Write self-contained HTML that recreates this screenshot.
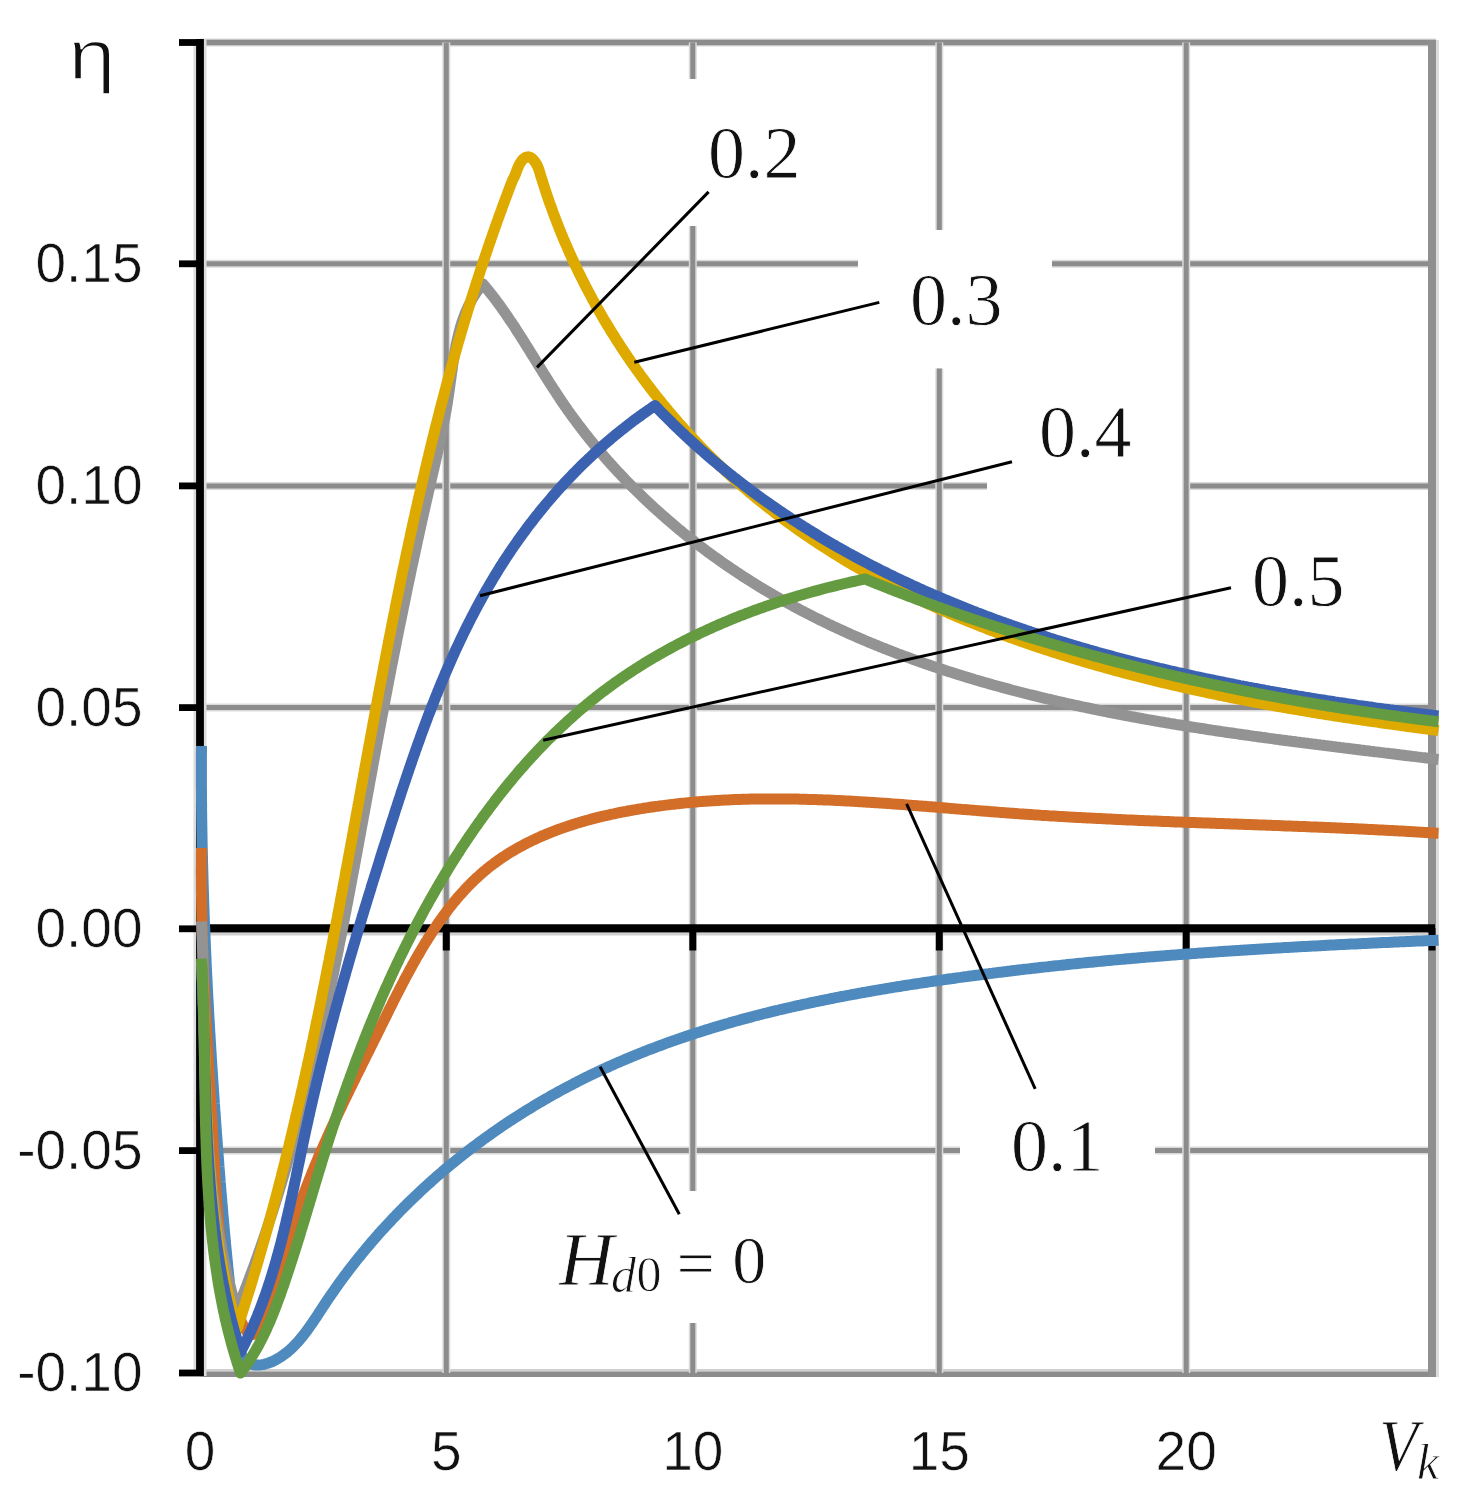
<!DOCTYPE html>
<html><head><meta charset="utf-8"><style>html,body{margin:0;padding:0;background:#fff;}svg{display:block;}</style></head>
<body><svg width="1466" height="1502" viewBox="0 0 1466 1502">
<rect width="1466" height="1502" fill="#fff"/>
<g>
<rect width="1466" height="1502" fill="#fff"/>
<line x1="200" y1="42.5" x2="1436" y2="42.5" stroke="#dadada" stroke-width="8"/>
<line x1="200" y1="42.5" x2="1436" y2="42.5" stroke="#8c8c8c" stroke-width="5.4"/>
<line x1="200" y1="263.8" x2="858" y2="263.8" stroke="#dadada" stroke-width="8"/>
<line x1="200" y1="263.8" x2="858" y2="263.8" stroke="#8c8c8c" stroke-width="5"/>
<line x1="1052" y1="263.8" x2="1432" y2="263.8" stroke="#dadada" stroke-width="8"/>
<line x1="1052" y1="263.8" x2="1432" y2="263.8" stroke="#8c8c8c" stroke-width="5"/>
<line x1="200" y1="485.9" x2="987" y2="485.9" stroke="#dadada" stroke-width="8"/>
<line x1="200" y1="485.9" x2="987" y2="485.9" stroke="#8c8c8c" stroke-width="5"/>
<line x1="1184" y1="485.9" x2="1432" y2="485.9" stroke="#dadada" stroke-width="8"/>
<line x1="1184" y1="485.9" x2="1432" y2="485.9" stroke="#8c8c8c" stroke-width="5"/>
<line x1="200" y1="707.6" x2="1432" y2="707.6" stroke="#dadada" stroke-width="8"/>
<line x1="200" y1="707.6" x2="1432" y2="707.6" stroke="#8c8c8c" stroke-width="5"/>
<line x1="200" y1="1150.6" x2="960" y2="1150.6" stroke="#dadada" stroke-width="8"/>
<line x1="200" y1="1150.6" x2="960" y2="1150.6" stroke="#8c8c8c" stroke-width="5"/>
<line x1="1155" y1="1150.6" x2="1432" y2="1150.6" stroke="#dadada" stroke-width="8"/>
<line x1="1155" y1="1150.6" x2="1432" y2="1150.6" stroke="#8c8c8c" stroke-width="5"/>
<line x1="200" y1="1370.3" x2="1436" y2="1370.3" stroke="#d0d0d0" stroke-width="2.6"/>
<line x1="200" y1="1374.3" x2="1436" y2="1374.3" stroke="#8c8c8c" stroke-width="5.4"/>
<line x1="446.3" y1="42.5" x2="446.3" y2="1373" stroke="#dadada" stroke-width="8"/>
<line x1="446.3" y1="42.5" x2="446.3" y2="1373" stroke="#8c8c8c" stroke-width="5"/>
<line x1="692.8" y1="42.5" x2="692.8" y2="79" stroke="#dadada" stroke-width="8"/>
<line x1="692.8" y1="42.5" x2="692.8" y2="79" stroke="#8c8c8c" stroke-width="5"/>
<line x1="692.8" y1="226" x2="692.8" y2="1191" stroke="#dadada" stroke-width="8"/>
<line x1="692.8" y1="226" x2="692.8" y2="1191" stroke="#8c8c8c" stroke-width="5"/>
<line x1="692.8" y1="1323" x2="692.8" y2="1373" stroke="#dadada" stroke-width="8"/>
<line x1="692.8" y1="1323" x2="692.8" y2="1373" stroke="#8c8c8c" stroke-width="5"/>
<line x1="939.3" y1="42.5" x2="939.3" y2="230" stroke="#dadada" stroke-width="8"/>
<line x1="939.3" y1="42.5" x2="939.3" y2="230" stroke="#8c8c8c" stroke-width="5"/>
<line x1="939.3" y1="368.5" x2="939.3" y2="1373" stroke="#dadada" stroke-width="8"/>
<line x1="939.3" y1="368.5" x2="939.3" y2="1373" stroke="#8c8c8c" stroke-width="5"/>
<line x1="1186.2" y1="42.5" x2="1186.2" y2="1373" stroke="#dadada" stroke-width="8"/>
<line x1="1186.2" y1="42.5" x2="1186.2" y2="1373" stroke="#8c8c8c" stroke-width="5"/>
<line x1="1437.5" y1="40" x2="1437.5" y2="1377" stroke="#dcdcdc" stroke-width="3"/>
<line x1="1432" y1="40" x2="1432" y2="1377" stroke="#8f8f8f" stroke-width="8"/>
<line x1="200" y1="39" x2="200" y2="1376" stroke="#dcdcdc" stroke-width="13"/>
<line x1="200" y1="39" x2="200" y2="1376" stroke="#000" stroke-width="7.8"/>
<line x1="179" y1="42.5" x2="200" y2="42.5" stroke="#000" stroke-width="6.8"/>
<line x1="179" y1="263.8" x2="200" y2="263.8" stroke="#000" stroke-width="6.8"/>
<line x1="179" y1="485.9" x2="200" y2="485.9" stroke="#000" stroke-width="6.8"/>
<line x1="179" y1="707.6" x2="200" y2="707.6" stroke="#000" stroke-width="6.8"/>
<line x1="179" y1="928.8" x2="200" y2="928.8" stroke="#000" stroke-width="6.8"/>
<line x1="179" y1="1150.6" x2="200" y2="1150.6" stroke="#000" stroke-width="6.8"/>
<line x1="179" y1="1373" x2="200" y2="1373" stroke="#000" stroke-width="6.8"/>
<line x1="200" y1="928.3" x2="1435" y2="928.3" stroke="#000" stroke-width="8.3"/>
<line x1="200" y1="934.2" x2="1435" y2="934.2" stroke="#d0d0d0" stroke-width="2.4"/>
<line x1="446.3" y1="928" x2="446.3" y2="950.5" stroke="#000" stroke-width="7"/>
<line x1="692.8" y1="928" x2="692.8" y2="950.5" stroke="#000" stroke-width="7"/>
<line x1="939.3" y1="928" x2="939.3" y2="950.5" stroke="#000" stroke-width="7"/>
<line x1="1186.2" y1="928" x2="1186.2" y2="950.5" stroke="#000" stroke-width="7"/>
<line x1="1432" y1="928" x2="1432" y2="950.5" stroke="#000" stroke-width="7"/>
<path d="M201.5,746.0 L201.5,748.0 L201.5,749.9 L201.5,751.9 L201.4,753.9 L201.4,755.8 L201.4,757.8 L201.4,759.8 L201.4,761.8 L201.4,763.7 L201.4,765.7 L201.4,767.7 L201.4,769.7 L201.4,771.7 L201.4,773.6 L201.4,775.6 L201.4,777.6 L201.4,779.6 L201.4,781.6 L201.4,783.5 L201.4,785.5 L201.4,787.5 L201.5,789.5 L201.5,791.5 L201.5,793.5 L201.5,795.5 L201.5,797.5 L201.5,799.4 L201.5,801.4 L201.6,803.4 L201.6,805.4 L201.6,807.4 L201.6,809.4 L201.6,811.4 L201.7,813.4 L201.7,815.4 L201.7,817.4 L201.7,819.4 L201.8,821.4 L201.8,823.4 L201.8,825.4 L201.9,827.4 L201.9,829.4 L201.9,831.4 L202.0,833.4 L202.0,835.4 L202.0,837.4 L202.1,839.4 L202.1,841.4 L202.1,843.4 L202.2,845.4 L202.2,847.4 L202.3,849.4 L202.3,851.4 L202.4,853.4 L202.4,855.5 L202.5,857.5 L202.5,859.5 L202.5,861.5 L202.6,863.5 L202.7,865.5 L202.7,867.5 L202.8,869.5 L202.8,871.5 L202.9,873.5 L202.9,875.6 L203.0,877.6 L203.0,879.6 L203.1,881.6 L203.1,883.6 L203.2,885.6 L203.3,887.6 L203.3,889.6 L203.4,891.7 L203.5,893.7 L203.5,895.7 L203.6,897.7 L203.7,899.7 L203.7,901.7 L203.8,903.7 L203.9,905.8 L203.9,907.8 L204.0,909.8 L204.1,911.8 L204.1,913.8 L204.2,915.8 L204.3,917.9 L204.4,919.9 L204.4,921.9 L204.5,923.9 L204.6,925.9 L204.7,927.9 L204.8,929.9 L204.8,932.0 L204.9,934.0 L205.0,936.0 L205.1,938.0 L205.2,940.0 L205.3,942.0 L205.3,944.1 L205.4,946.1 L205.5,948.1 L205.6,950.1 L205.7,952.1 L205.8,954.1 L205.9,956.2 L206.0,958.2 L206.1,960.2 L206.1,962.2 L206.2,964.2 L206.3,966.2 L206.4,968.2 L206.5,970.3 L206.6,972.3 L206.7,974.3 L206.8,976.3 L206.9,978.3 L207.0,980.3 L207.1,982.3 L207.2,984.3 L207.3,986.4 L207.4,988.4 L207.5,990.4 L207.6,992.4 L207.7,994.4 L207.8,996.4 L207.9,998.4 L208.0,1000.4 L208.2,1002.4 L208.3,1004.4 L208.4,1006.5 L208.5,1008.5 L208.6,1010.5 L208.7,1012.5 L208.8,1014.5 L208.9,1016.5 L209.0,1018.5 L209.1,1020.5 L209.3,1022.5 L209.4,1024.5 L209.5,1026.5 L209.6,1028.5 L209.7,1030.5 L209.8,1032.5 L210.0,1034.5 L210.1,1036.5 L210.2,1038.5 L210.3,1040.5 L210.4,1042.5 L210.6,1044.5 L210.7,1046.5 L210.8,1048.5 L210.9,1050.5 L211.0,1052.5 L211.2,1054.5 L211.3,1056.5 L211.4,1058.5 L211.5,1060.5 L211.7,1062.4 L211.8,1064.4 L211.9,1066.4 L212.0,1068.4 L212.2,1070.4 L212.3,1072.4 L212.4,1074.4 L212.6,1076.4 L212.7,1078.3 L212.8,1080.3 L213.0,1082.3 L213.1,1084.3 L213.2,1086.3 L213.4,1088.3 L213.5,1090.2 L213.6,1092.2 L213.8,1094.2 L213.9,1096.2 L214.0,1098.1 L214.2,1100.1 L214.3,1102.1 L214.4,1104.1 L214.6,1106.0 L214.7,1108.0 L214.8,1110.0 L215.0,1111.9 L215.1,1113.9 L215.3,1115.9 L215.4,1117.8 L215.5,1119.8 L215.7,1121.8 L215.8,1123.7 L216.0,1125.7 L216.1,1127.6 L216.2,1129.6 L216.4,1131.6 L216.5,1133.5 L216.7,1135.5 L216.8,1137.4 L217.0,1139.4 L217.1,1141.3 L217.3,1143.3 L217.4,1145.2 L217.5,1147.2 L217.7,1149.1 L217.8,1151.1 L218.0,1153.0 L218.1,1155.0 L218.3,1156.9 L218.4,1158.8 L218.6,1160.8 L218.7,1162.7 L218.9,1164.7 L219.0,1166.6 L219.2,1168.5 L219.3,1170.5 L219.5,1172.4 L219.6,1174.3 L219.8,1176.3 L219.9,1178.2 L220.1,1180.2 L220.2,1182.1 L220.4,1184.0 L220.6,1186.0 L220.7,1187.9 L220.9,1189.9 L221.0,1191.8 L221.2,1193.7 L221.4,1195.7 L221.5,1197.6 L221.7,1199.6 L221.8,1201.5 L222.0,1203.5 L222.2,1205.4 L222.3,1207.4 L222.5,1209.4 L222.7,1211.3 L222.8,1213.3 L223.0,1215.2 L223.2,1217.2 L223.4,1219.2 L223.5,1221.1 L223.7,1223.1 L223.9,1225.1 L224.1,1227.1 L224.2,1229.1 L224.4,1231.1 L224.6,1233.0 L224.8,1235.0 L225.0,1237.0 L225.2,1239.0 L225.3,1241.0 L225.5,1243.1 L225.7,1245.1 L225.9,1247.1 L226.1,1249.1 L226.3,1251.1 L226.5,1253.2 L226.7,1255.2 L226.9,1257.3 L227.1,1259.3 L227.3,1261.3 L227.5,1263.4 L227.7,1265.5 L227.9,1267.5 L228.1,1269.6 L228.3,1271.7 L228.5,1273.8 L228.8,1275.9 L229.0,1278.0 L229.2,1280.1 L229.4,1282.2 L229.6,1284.3 L229.9,1286.4 L230.1,1288.5 L230.3,1290.7 L230.5,1292.8 L230.8,1294.9 L231.0,1297.1 L231.2,1299.3 L231.5,1301.4 L231.7,1303.6 L232.0,1305.8 L232.2,1308.0 L232.4,1310.2 L232.7,1312.4 L232.9,1314.6 L233.2,1316.8 L233.5,1319.0 L233.7,1321.3 L234.0,1323.5 L234.3,1325.7 L234.6,1328.0 L234.9,1330.2 L235.2,1332.4 L235.6,1334.5 L235.9,1336.7 L236.4,1338.8 L236.8,1340.9 L237.3,1343.0 L237.9,1345.0 L238.5,1346.9 L239.1,1348.8 L239.8,1350.7 L240.5,1352.5 L241.3,1354.2 L242.2,1355.8 L243.1,1357.3 L244.1,1358.6 L245.2,1359.9 L246.3,1361.0 L247.5,1362.0 L248.7,1362.9 L250.1,1363.6 L251.5,1364.1 L252.9,1364.6 L254.4,1364.9 L256.0,1365.0 L257.5,1365.1 L259.2,1365.1 L260.8,1364.9 L262.5,1364.6 L264.2,1364.3 L265.9,1363.8 L267.6,1363.3 L269.3,1362.7 L271.1,1362.0 L272.8,1361.3 L274.5,1360.4 L276.2,1359.6 L277.9,1358.6 L279.5,1357.6 L281.1,1356.6 L282.7,1355.5 L284.2,1354.4 L285.8,1353.3 L287.3,1352.1 L288.7,1350.9 L290.2,1349.6 L291.6,1348.3 L293.0,1347.0 L294.3,1345.6 L295.7,1344.2 L297.0,1342.8 L298.3,1341.4 L299.6,1339.9 L300.8,1338.4 L302.1,1336.9 L303.3,1335.4 L304.5,1333.8 L305.7,1332.2 L306.9,1330.6 L308.1,1329.0 L309.2,1327.4 L310.4,1325.7 L311.5,1324.1 L312.7,1322.4 L313.8,1320.7 L314.9,1319.1 L316.1,1317.4 L317.2,1315.7 L318.3,1314.0 L319.4,1312.3 L320.5,1310.5 L321.7,1308.8 L322.8,1307.1 L323.9,1305.4 L325.0,1303.7 L326.2,1302.0 L327.3,1300.3 L328.4,1298.6 L329.6,1296.9 L330.7,1295.2 L331.9,1293.6 L333.1,1291.9 L334.2,1290.2 L335.4,1288.6 L336.6,1286.9 L337.7,1285.2 L338.9,1283.6 L340.1,1281.9 L341.3,1280.3 L342.5,1278.7 L343.7,1277.0 L344.9,1275.4 L346.2,1273.8 L347.4,1272.2 L348.6,1270.5 L349.8,1268.9 L351.1,1267.3 L352.3,1265.7 L353.6,1264.1 L354.8,1262.5 L356.1,1260.9 L357.3,1259.4 L358.6,1257.8 L359.9,1256.2 L361.2,1254.6 L362.4,1253.1 L363.7,1251.5 L365.0,1250.0 L366.3,1248.4 L367.6,1246.9 L368.9,1245.3 L370.2,1243.8 L371.5,1242.2 L372.8,1240.7 L374.2,1239.2 L375.5,1237.7 L376.8,1236.2 L378.1,1234.6 L379.5,1233.1 L380.8,1231.6 L382.2,1230.1 L383.5,1228.7 L384.9,1227.2 L386.2,1225.7 L387.6,1224.2 L389.0,1222.7 L390.4,1221.3 L391.7,1219.8 L393.1,1218.3 L394.5,1216.9 L395.9,1215.4 L397.3,1214.0 L398.7,1212.6 L400.1,1211.1 L401.5,1209.7 L402.9,1208.3 L404.3,1206.8 L405.8,1205.4 L407.2,1204.0 L408.6,1202.6 L410.0,1201.2 L411.5,1199.8 L412.9,1198.4 L414.4,1197.0 L415.8,1195.6 L417.3,1194.3 L418.7,1192.9 L420.2,1191.5 L421.7,1190.1 L423.1,1188.8 L424.6,1187.4 L426.1,1186.1 L427.6,1184.7 L429.1,1183.4 L430.5,1182.1 L432.0,1180.7 L433.5,1179.4 L435.0,1178.1 L436.5,1176.7 L438.0,1175.4 L439.6,1174.1 L441.1,1172.8 L442.6,1171.5 L444.1,1170.2 L445.6,1168.9 L447.2,1167.7 L448.7,1166.4 L450.3,1165.1 L451.8,1163.8 L453.3,1162.6 L454.9,1161.3 L456.4,1160.0 L458.0,1158.8 L459.6,1157.5 L461.1,1156.3 L462.7,1155.1 L464.3,1153.8 L465.8,1152.6 L467.4,1151.4 L469.0,1150.1 L470.6,1148.9 L472.2,1147.7 L473.8,1146.5 L475.4,1145.3 L477.0,1144.1 L478.6,1142.9 L480.2,1141.7 L481.8,1140.6 L483.4,1139.4 L485.0,1138.2 L486.6,1137.1 L488.2,1135.9 L489.9,1134.7 L491.5,1133.6 L493.1,1132.4 L494.8,1131.3 L496.4,1130.2 L498.0,1129.0 L499.7,1127.9 L501.3,1126.8 L503.0,1125.6 L504.6,1124.5 L506.3,1123.4 L507.9,1122.3 L509.6,1121.2 L511.3,1120.1 L512.9,1119.0 L514.6,1118.0 L516.3,1116.9 L518.0,1115.8 L519.6,1114.7 L521.3,1113.7 L523.0,1112.6 L524.7,1111.5 L526.4,1110.5 L528.1,1109.4 L529.8,1108.4 L531.5,1107.4 L533.2,1106.3 L534.9,1105.3 L536.6,1104.3 L538.3,1103.3 L540.0,1102.3 L541.8,1101.2 L543.5,1100.2 L545.2,1099.2 L546.9,1098.3 L548.7,1097.3 L550.4,1096.3 L552.1,1095.3 L553.9,1094.3 L555.6,1093.4 L557.3,1092.4 L559.1,1091.4 L560.8,1090.5 L562.6,1089.5 L564.3,1088.6 L566.1,1087.7 L567.8,1086.7 L569.6,1085.8 L571.4,1084.9 L573.1,1083.9 L574.9,1083.0 L576.7,1082.1 L578.4,1081.2 L580.2,1080.3 L582.0,1079.4 L583.8,1078.5 L585.5,1077.6 L587.3,1076.8 L589.1,1075.9 L590.9,1075.0 L592.7,1074.1 L594.5,1073.3 L596.3,1072.4 L598.1,1071.6 L599.9,1070.7 L601.7,1069.9 L603.5,1069.1 L605.3,1068.2 L607.1,1067.4 L608.9,1066.6 L610.7,1065.8 L612.5,1065.0 L614.3,1064.1 L616.2,1063.3 L618.0,1062.5 L619.8,1061.8 L621.6,1061.0 L623.4,1060.2 L625.3,1059.4 L627.1,1058.6 L628.9,1057.9 L630.8,1057.1 L632.6,1056.3 L634.4,1055.6 L636.3,1054.8 L638.1,1054.1 L640.0,1053.3 L641.8,1052.6 L643.7,1051.9 L645.5,1051.1 L647.4,1050.4 L649.2,1049.7 L651.1,1049.0 L652.9,1048.3 L654.8,1047.6 L656.6,1046.9 L658.5,1046.2 L660.4,1045.5 L662.2,1044.8 L664.1,1044.1 L666.0,1043.4 L667.8,1042.7 L669.7,1042.1 L671.6,1041.4 L673.5,1040.7 L675.3,1040.1 L677.2,1039.4 L679.1,1038.8 L681.0,1038.1 L682.9,1037.5 L684.8,1036.8 L686.6,1036.2 L688.5,1035.6 L690.4,1034.9 L692.3,1034.3 L694.2,1033.7 L696.1,1033.1 L698.0,1032.5 L699.9,1031.9 L701.8,1031.3 L703.7,1030.7 L705.6,1030.1 L707.5,1029.5 L709.4,1028.9 L711.3,1028.3 L713.2,1027.7 L715.1,1027.1 L717.1,1026.6 L719.0,1026.0 L720.9,1025.4 L722.8,1024.9 L724.7,1024.3 L726.6,1023.7 L728.5,1023.2 L730.5,1022.6 L732.4,1022.1 L734.3,1021.5 L736.2,1021.0 L738.2,1020.5 L740.1,1019.9 L742.0,1019.4 L743.9,1018.9 L745.9,1018.4 L747.8,1017.9 L749.7,1017.3 L751.7,1016.8 L753.6,1016.3 L755.5,1015.8 L757.5,1015.3 L759.4,1014.8 L761.4,1014.3 L763.3,1013.8 L765.2,1013.3 L767.2,1012.9 L769.1,1012.4 L771.1,1011.9 L773.0,1011.4 L775.0,1010.9 L776.9,1010.5 L778.9,1010.0 L780.8,1009.5 L782.8,1009.1 L784.7,1008.6 L786.7,1008.2 L788.6,1007.7 L790.6,1007.3 L792.5,1006.8 L794.5,1006.4 L796.4,1005.9 L798.4,1005.5 L800.4,1005.1 L802.3,1004.6 L804.3,1004.2 L806.2,1003.8 L808.2,1003.4 L810.2,1002.9 L812.1,1002.5 L814.1,1002.1 L816.1,1001.7 L818.0,1001.3 L820.0,1000.9 L822.0,1000.5 L823.9,1000.1 L825.9,999.7 L827.9,999.3 L829.8,998.9 L831.8,998.5 L833.8,998.1 L835.7,997.7 L837.7,997.3 L839.7,996.9 L841.7,996.5 L843.6,996.2 L845.6,995.8 L847.6,995.4 L849.6,995.1 L851.5,994.7 L853.5,994.3 L855.5,994.0 L857.5,993.6 L859.4,993.2 L861.4,992.9 L863.4,992.5 L865.4,992.2 L867.4,991.8 L869.3,991.5 L871.3,991.1 L873.3,990.8 L875.3,990.4 L877.3,990.1 L879.2,989.8 L881.2,989.4 L883.2,989.1 L885.2,988.8 L887.2,988.4 L889.2,988.1 L891.1,987.8 L893.1,987.4 L895.1,987.1 L897.1,986.8 L899.1,986.5 L901.1,986.2 L903.0,985.8 L905.0,985.5 L907.0,985.2 L909.0,984.9 L911.0,984.6 L913.0,984.3 L914.9,984.0 L916.9,983.7 L918.9,983.4 L920.9,983.1 L922.9,982.8 L924.9,982.5 L926.9,982.2 L928.8,981.9 L930.8,981.6 L932.8,981.3 L934.8,981.0 L936.8,980.7 L938.8,980.4 L940.8,980.2 L942.7,979.9 L944.7,979.6 L946.7,979.3 L948.7,979.0 L950.7,978.7 L952.7,978.5 L954.7,978.2 L956.6,977.9 L958.6,977.6 L960.6,977.4 L962.6,977.1 L964.6,976.8 L966.6,976.6 L968.6,976.3 L970.5,976.0 L972.5,975.8 L974.5,975.5 L976.5,975.2 L978.5,975.0 L980.5,974.7 L982.4,974.5 L984.4,974.2 L986.4,973.9 L988.4,973.7 L990.4,973.4 L992.4,973.2 L994.4,972.9 L996.3,972.7 L998.3,972.4 L1000.3,972.2 L1002.3,972.0 L1004.3,971.7 L1006.3,971.5 L1008.2,971.2 L1010.2,971.0 L1012.2,970.7 L1014.2,970.5 L1016.2,970.3 L1018.2,970.0 L1020.2,969.8 L1022.1,969.6 L1024.1,969.3 L1026.1,969.1 L1028.1,968.9 L1030.1,968.7 L1032.1,968.4 L1034.0,968.2 L1036.0,968.0 L1038.0,967.8 L1040.0,967.5 L1042.0,967.3 L1044.0,967.1 L1045.9,966.9 L1047.9,966.7 L1049.9,966.4 L1051.9,966.2 L1053.9,966.0 L1055.9,965.8 L1057.9,965.6 L1059.8,965.4 L1061.8,965.2 L1063.8,965.0 L1065.8,964.8 L1067.8,964.5 L1069.8,964.3 L1071.7,964.1 L1073.7,963.9 L1075.7,963.7 L1077.7,963.5 L1079.7,963.3 L1081.7,963.1 L1083.7,962.9 L1085.6,962.7 L1087.6,962.5 L1089.6,962.3 L1091.6,962.2 L1093.6,962.0 L1095.6,961.8 L1097.5,961.6 L1099.5,961.4 L1101.5,961.2 L1103.5,961.0 L1105.5,960.8 L1107.5,960.6 L1109.5,960.5 L1111.4,960.3 L1113.4,960.1 L1115.4,959.9 L1117.4,959.7 L1119.4,959.6 L1121.4,959.4 L1123.4,959.2 L1125.3,959.0 L1127.3,958.8 L1129.3,958.7 L1131.3,958.5 L1133.3,958.3 L1135.3,958.2 L1137.3,958.0 L1139.2,957.8 L1141.2,957.6 L1143.2,957.5 L1145.2,957.3 L1147.2,957.1 L1149.2,957.0 L1151.2,956.8 L1153.1,956.7 L1155.1,956.5 L1157.1,956.3 L1159.1,956.2 L1161.1,956.0 L1163.1,955.9 L1165.1,955.7 L1167.0,955.5 L1169.0,955.4 L1171.0,955.2 L1173.0,955.1 L1175.0,954.9 L1177.0,954.8 L1179.0,954.6 L1181.0,954.5 L1182.9,954.3 L1184.9,954.2 L1186.9,954.0 L1188.9,953.9 L1190.9,953.7 L1192.9,953.6 L1194.9,953.4 L1196.9,953.3 L1198.9,953.1 L1200.8,953.0 L1202.8,952.9 L1204.8,952.7 L1206.8,952.6 L1208.8,952.4 L1210.8,952.3 L1212.8,952.2 L1214.8,952.0 L1216.8,951.9 L1218.7,951.7 L1220.7,951.6 L1222.7,951.5 L1224.7,951.3 L1226.7,951.2 L1228.7,951.1 L1230.7,950.9 L1232.7,950.8 L1234.7,950.7 L1236.6,950.5 L1238.6,950.4 L1240.6,950.3 L1242.6,950.2 L1244.6,950.0 L1246.6,949.9 L1248.6,949.8 L1250.6,949.7 L1252.6,949.5 L1254.6,949.4 L1256.6,949.3 L1258.6,949.2 L1260.5,949.0 L1262.5,948.9 L1264.5,948.8 L1266.5,948.7 L1268.5,948.6 L1270.5,948.4 L1272.5,948.3 L1274.5,948.2 L1276.5,948.1 L1278.5,948.0 L1280.5,947.9 L1282.5,947.7 L1284.5,947.6 L1286.5,947.5 L1288.4,947.4 L1290.4,947.3 L1292.4,947.2 L1294.4,947.1 L1296.4,947.0 L1298.4,946.8 L1300.4,946.7 L1302.4,946.6 L1304.4,946.5 L1306.4,946.4 L1308.4,946.3 L1310.4,946.2 L1312.4,946.1 L1314.4,946.0 L1316.4,945.9 L1318.4,945.8 L1320.4,945.7 L1322.4,945.6 L1324.4,945.5 L1326.4,945.3 L1328.4,945.2 L1330.4,945.1 L1332.4,945.0 L1334.3,944.9 L1336.3,944.8 L1338.3,944.7 L1340.3,944.6 L1342.3,944.5 L1344.3,944.4 L1346.3,944.3 L1348.3,944.2 L1350.3,944.1 L1352.3,944.0 L1354.3,944.0 L1356.3,943.9 L1358.3,943.8 L1360.3,943.7 L1362.3,943.6 L1364.3,943.5 L1366.3,943.4 L1368.3,943.3 L1370.3,943.2 L1372.3,943.1 L1374.3,943.0 L1376.3,942.9 L1378.3,942.8 L1380.3,942.7 L1382.3,942.6 L1384.4,942.5 L1386.4,942.5 L1388.4,942.4 L1390.4,942.3 L1392.4,942.2 L1394.4,942.1 L1396.4,942.0 L1398.4,941.9 L1400.4,941.8 L1402.4,941.7 L1404.4,941.7 L1406.4,941.6 L1408.4,941.5 L1410.4,941.4 L1412.4,941.3 L1414.4,941.2 L1416.4,941.1 L1418.4,941.0 L1420.4,941.0 L1422.4,940.9 L1424.4,940.8 L1426.5,940.7 L1428.5,940.6 L1430.5,940.5 L1432.5,940.5 L1434.5,940.4 L1436.5,940.3 L1438.5,940.2" fill="none" stroke="#4E8ABE" stroke-width="11" stroke-linejoin="round" stroke-linecap="butt"/>
<path d="M201.5,848.0 L201.5,850.0 L201.5,852.1 L201.4,854.1 L201.4,856.1 L201.4,858.1 L201.4,860.1 L201.4,862.2 L201.4,864.2 L201.4,866.2 L201.3,868.2 L201.3,870.2 L201.3,872.2 L201.3,874.3 L201.4,876.3 L201.4,878.3 L201.4,880.3 L201.4,882.3 L201.4,884.3 L201.4,886.3 L201.4,888.3 L201.4,890.3 L201.5,892.3 L201.5,894.3 L201.5,896.3 L201.5,898.3 L201.6,900.3 L201.6,902.3 L201.6,904.3 L201.7,906.3 L201.7,908.3 L201.7,910.3 L201.8,912.3 L201.8,914.3 L201.8,916.3 L201.9,918.3 L201.9,920.3 L202.0,922.3 L202.0,924.3 L202.1,926.3 L202.1,928.3 L202.2,930.3 L202.2,932.3 L202.3,934.3 L202.4,936.3 L202.4,938.3 L202.5,940.2 L202.5,942.2 L202.6,944.2 L202.7,946.2 L202.7,948.2 L202.8,950.2 L202.9,952.2 L203.0,954.2 L203.0,956.1 L203.1,958.1 L203.2,960.1 L203.3,962.1 L203.3,964.1 L203.4,966.1 L203.5,968.1 L203.6,970.0 L203.7,972.0 L203.8,974.0 L203.8,976.0 L203.9,978.0 L204.0,979.9 L204.1,981.9 L204.2,983.9 L204.3,985.9 L204.4,987.9 L204.5,989.9 L204.6,991.8 L204.7,993.8 L204.8,995.8 L204.9,997.8 L204.9,999.8 L205.0,1001.7 L205.1,1003.7 L205.2,1005.7 L205.3,1007.7 L205.5,1009.7 L205.6,1011.7 L205.7,1013.6 L205.8,1015.6 L205.9,1017.6 L206.0,1019.6 L206.1,1021.6 L206.2,1023.5 L206.3,1025.5 L206.4,1027.5 L206.5,1029.5 L206.6,1031.5 L206.7,1033.5 L206.9,1035.4 L207.0,1037.4 L207.1,1039.4 L207.2,1041.4 L207.3,1043.4 L207.4,1045.4 L207.5,1047.3 L207.6,1049.3 L207.8,1051.3 L207.9,1053.3 L208.0,1055.3 L208.1,1057.3 L208.2,1059.3 L208.3,1061.2 L208.5,1063.2 L208.6,1065.2 L208.7,1067.2 L208.8,1069.2 L208.9,1071.2 L209.0,1073.2 L209.2,1075.2 L209.3,1077.2 L209.4,1079.1 L209.5,1081.1 L209.6,1083.1 L209.8,1085.1 L209.9,1087.1 L210.0,1089.1 L210.1,1091.1 L210.2,1093.1 L210.4,1095.1 L210.5,1097.1 L210.6,1099.1 L210.7,1101.1 L210.8,1103.1 L211.0,1105.1 L211.1,1107.1 L211.2,1109.1 L211.3,1111.1 L211.4,1113.1 L211.5,1115.1 L211.7,1117.1 L211.8,1119.1 L211.9,1121.1 L212.0,1123.1 L212.1,1125.1 L212.3,1127.1 L212.4,1129.2 L212.5,1131.2 L212.6,1133.2 L212.7,1135.2 L212.8,1137.2 L212.9,1139.2 L213.1,1141.2 L213.2,1143.3 L213.3,1145.3 L213.4,1147.3 L213.5,1149.3 L213.6,1151.3 L213.7,1153.4 L213.8,1155.4 L213.9,1157.4 L214.1,1159.4 L214.2,1161.5 L214.3,1163.5 L214.4,1165.5 L214.5,1167.5 L214.6,1169.6 L214.7,1171.6 L214.8,1173.6 L215.0,1175.6 L215.1,1177.7 L215.2,1179.7 L215.3,1181.7 L215.5,1183.8 L215.6,1185.8 L215.7,1187.8 L215.9,1189.8 L216.0,1191.9 L216.1,1193.9 L216.3,1195.9 L216.4,1197.9 L216.6,1200.0 L216.7,1202.0 L216.9,1204.0 L217.0,1206.0 L217.2,1208.0 L217.4,1210.1 L217.6,1212.1 L217.7,1214.1 L217.9,1216.1 L218.1,1218.1 L218.3,1220.1 L218.5,1222.1 L218.7,1224.2 L219.0,1226.2 L219.2,1228.2 L219.4,1230.2 L219.6,1232.2 L219.9,1234.2 L220.1,1236.2 L220.4,1238.2 L220.7,1240.1 L220.9,1242.1 L221.2,1244.1 L221.5,1246.1 L221.8,1248.1 L222.1,1250.1 L222.4,1252.0 L222.7,1254.0 L223.1,1256.0 L223.4,1257.9 L223.8,1259.9 L224.1,1261.9 L224.5,1263.8 L224.9,1265.8 L225.2,1267.7 L225.6,1269.7 L226.0,1271.6 L226.5,1273.5 L226.9,1275.5 L227.3,1277.4 L227.8,1279.3 L228.2,1281.3 L228.7,1283.2 L229.2,1285.1 L229.7,1287.0 L230.2,1288.9 L230.7,1290.8 L231.3,1292.7 L231.8,1294.6 L232.4,1296.5 L232.9,1298.4 L233.5,1300.2 L234.1,1302.1 L234.7,1304.0 L235.4,1305.8 L236.0,1307.7 L236.6,1309.5 L237.3,1311.4 L238.0,1313.2 L238.7,1315.1 L239.4,1316.9 L240.1,1318.7 L240.9,1320.5 L241.6,1322.3 L242.4,1324.0 L243.2,1325.6 L244.0,1327.2 L244.9,1328.6 L245.7,1330.0 L246.6,1331.2 L247.5,1332.2 L248.5,1333.1 L249.4,1333.8 L250.4,1334.2 L251.5,1334.5 L252.5,1334.5 L253.6,1334.3 L254.8,1333.7 L256.0,1332.9 L257.2,1331.9 L258.4,1330.6 L259.6,1329.0 L260.8,1327.3 L262.1,1325.5 L263.3,1323.5 L264.5,1321.4 L265.6,1319.2 L266.7,1317.0 L267.8,1314.7 L268.7,1312.4 L269.6,1310.2 L270.5,1308.0 L271.3,1305.8 L272.0,1303.7 L272.7,1301.5 L273.3,1299.4 L273.9,1297.3 L274.5,1295.2 L275.0,1293.1 L275.5,1291.0 L276.0,1289.0 L276.5,1286.9 L276.9,1284.9 L277.4,1282.9 L277.8,1280.8 L278.3,1278.8 L278.7,1276.8 L279.2,1274.8 L279.7,1272.8 L280.1,1270.8 L280.6,1268.8 L281.1,1266.8 L281.6,1264.9 L282.1,1262.9 L282.6,1260.9 L283.1,1259.0 L283.6,1257.0 L284.1,1255.0 L284.7,1253.1 L285.2,1251.1 L285.7,1249.2 L286.3,1247.3 L286.8,1245.3 L287.4,1243.4 L287.9,1241.5 L288.5,1239.5 L289.1,1237.6 L289.7,1235.7 L290.2,1233.8 L290.8,1231.9 L291.4,1230.0 L292.0,1228.1 L292.6,1226.2 L293.2,1224.3 L293.8,1222.4 L294.5,1220.5 L295.1,1218.6 L295.7,1216.8 L296.3,1214.9 L297.0,1213.0 L297.6,1211.2 L298.3,1209.3 L298.9,1207.4 L299.6,1205.6 L300.2,1203.7 L300.9,1201.9 L301.6,1200.0 L302.2,1198.2 L302.9,1196.3 L303.6,1194.5 L304.3,1192.6 L305.0,1190.8 L305.7,1189.0 L306.4,1187.1 L307.1,1185.3 L307.8,1183.5 L308.5,1181.7 L309.2,1179.8 L310.0,1178.0 L310.7,1176.2 L311.4,1174.4 L312.1,1172.6 L312.9,1170.8 L313.6,1168.9 L314.4,1167.1 L315.1,1165.3 L315.9,1163.5 L316.6,1161.7 L317.4,1159.9 L318.1,1158.1 L318.9,1156.3 L319.7,1154.5 L320.5,1152.7 L321.2,1150.9 L322.0,1149.2 L322.8,1147.4 L323.6,1145.6 L324.4,1143.8 L325.2,1142.0 L326.0,1140.2 L326.8,1138.4 L327.6,1136.6 L328.4,1134.9 L329.2,1133.1 L330.0,1131.3 L330.8,1129.5 L331.6,1127.7 L332.4,1126.0 L333.3,1124.2 L334.1,1122.4 L334.9,1120.6 L335.7,1118.8 L336.6,1117.1 L337.4,1115.3 L338.3,1113.5 L339.1,1111.7 L339.9,1110.0 L340.8,1108.2 L341.6,1106.4 L342.5,1104.6 L343.3,1102.8 L344.2,1101.1 L345.0,1099.3 L345.9,1097.5 L346.8,1095.7 L347.6,1094.0 L348.5,1092.2 L349.3,1090.4 L350.2,1088.6 L351.1,1086.8 L352.0,1085.1 L352.8,1083.3 L353.7,1081.5 L354.6,1079.7 L355.5,1077.9 L356.3,1076.1 L357.2,1074.3 L358.1,1072.6 L359.0,1070.8 L359.9,1069.0 L360.8,1067.2 L361.6,1065.4 L362.5,1063.6 L363.4,1061.8 L364.3,1060.0 L365.2,1058.2 L366.1,1056.4 L367.0,1054.6 L367.9,1052.8 L368.8,1051.0 L369.7,1049.2 L370.6,1047.4 L371.5,1045.6 L372.4,1043.8 L373.3,1041.9 L374.2,1040.1 L375.1,1038.3 L376.0,1036.5 L376.9,1034.7 L377.8,1032.8 L378.7,1031.0 L379.6,1029.2 L380.5,1027.4 L381.4,1025.5 L382.3,1023.7 L383.2,1021.8 L384.1,1020.0 L385.1,1018.2 L386.0,1016.3 L386.9,1014.5 L387.8,1012.6 L388.7,1010.8 L389.6,1008.9 L390.5,1007.1 L391.5,1005.3 L392.4,1003.4 L393.3,1001.6 L394.2,999.7 L395.2,997.9 L396.1,996.0 L397.0,994.2 L398.0,992.4 L398.9,990.5 L399.9,988.7 L400.8,986.9 L401.8,985.0 L402.7,983.2 L403.7,981.4 L404.6,979.5 L405.6,977.7 L406.6,975.9 L407.6,974.1 L408.5,972.3 L409.5,970.5 L410.5,968.6 L411.5,966.8 L412.5,965.0 L413.5,963.2 L414.5,961.5 L415.5,959.7 L416.5,957.9 L417.5,956.1 L418.6,954.3 L419.6,952.6 L420.6,950.8 L421.7,949.0 L422.7,947.3 L423.8,945.5 L424.8,943.8 L425.9,942.1 L427.0,940.3 L428.0,938.6 L429.1,936.9 L430.2,935.2 L431.3,933.5 L432.4,931.8 L433.5,930.1 L434.6,928.4 L435.8,926.8 L436.9,925.1 L438.0,923.4 L439.2,921.8 L440.3,920.2 L441.5,918.5 L442.7,916.9 L443.8,915.3 L445.0,913.7 L446.2,912.1 L447.4,910.5 L448.6,908.9 L449.8,907.4 L451.1,905.8 L452.3,904.3 L453.5,902.7 L454.8,901.2 L456.0,899.7 L457.3,898.2 L458.6,896.7 L459.9,895.2 L461.2,893.8 L462.5,892.3 L463.8,890.9 L465.1,889.4 L466.5,888.0 L467.8,886.6 L469.2,885.2 L470.5,883.8 L471.9,882.4 L473.3,881.1 L474.7,879.7 L476.1,878.4 L477.5,877.1 L479.0,875.8 L480.4,874.5 L481.9,873.2 L483.3,871.9 L484.8,870.7 L486.3,869.5 L487.8,868.2 L489.3,867.0 L490.8,865.8 L492.4,864.7 L493.9,863.5 L495.5,862.4 L497.0,861.2 L498.6,860.1 L500.2,859.0 L501.8,857.9 L503.4,856.8 L505.0,855.8 L506.7,854.7 L508.3,853.7 L509.9,852.7 L511.6,851.6 L513.3,850.7 L515.0,849.7 L516.6,848.7 L518.3,847.7 L520.0,846.8 L521.8,845.9 L523.5,844.9 L525.2,844.0 L527.0,843.1 L528.7,842.3 L530.5,841.4 L532.2,840.5 L534.0,839.7 L535.8,838.9 L537.6,838.0 L539.4,837.2 L541.2,836.4 L543.0,835.6 L544.8,834.9 L546.6,834.1 L548.5,833.3 L550.3,832.6 L552.2,831.9 L554.0,831.2 L555.9,830.4 L557.7,829.7 L559.6,829.1 L561.5,828.4 L563.4,827.7 L565.2,827.1 L567.1,826.4 L569.0,825.8 L570.9,825.2 L572.9,824.5 L574.8,823.9 L576.7,823.3 L578.6,822.8 L580.5,822.2 L582.5,821.6 L584.4,821.1 L586.4,820.5 L588.3,820.0 L590.3,819.4 L592.2,818.9 L594.2,818.4 L596.1,817.9 L598.1,817.4 L600.1,816.9 L602.0,816.4 L604.0,816.0 L606.0,815.5 L608.0,815.1 L610.0,814.6 L611.9,814.2 L613.9,813.8 L615.9,813.3 L617.9,812.9 L619.9,812.5 L621.9,812.1 L623.9,811.7 L625.9,811.4 L627.9,811.0 L629.9,810.6 L631.9,810.3 L633.9,809.9 L635.9,809.6 L637.9,809.2 L639.9,808.9 L641.9,808.6 L644.0,808.2 L646.0,807.9 L648.0,807.6 L650.0,807.3 L652.0,807.0 L654.0,806.7 L656.0,806.4 L658.0,806.2 L660.0,805.9 L662.0,805.6 L664.0,805.4 L666.0,805.1 L668.0,804.9 L670.0,804.6 L672.0,804.4 L674.1,804.2 L676.1,803.9 L678.1,803.7 L680.1,803.5 L682.1,803.3 L684.1,803.1 L686.1,802.9 L688.1,802.7 L690.1,802.5 L692.1,802.3 L694.1,802.1 L696.1,802.0 L698.1,801.8 L700.1,801.6 L702.1,801.5 L704.1,801.3 L706.1,801.2 L708.1,801.0 L710.1,800.9 L712.1,800.8 L714.1,800.7 L716.1,800.5 L718.1,800.4 L720.1,800.3 L722.1,800.2 L724.1,800.1 L726.1,800.0 L728.1,799.9 L730.1,799.8 L732.1,799.7 L734.1,799.6 L736.1,799.6 L738.1,799.5 L740.1,799.4 L742.1,799.3 L744.1,799.3 L746.1,799.2 L748.1,799.2 L750.0,799.1 L752.0,799.1 L754.0,799.0 L756.0,799.0 L758.0,799.0 L760.0,799.0 L762.0,798.9 L764.0,798.9 L766.0,798.9 L768.0,798.9 L770.0,798.9 L772.0,798.9 L774.0,798.9 L776.0,798.9 L778.0,798.9 L780.0,798.9 L782.0,798.9 L784.0,798.9 L785.9,798.9 L787.9,799.0 L789.9,799.0 L791.9,799.0 L793.9,799.0 L795.9,799.1 L797.9,799.1 L799.9,799.2 L801.9,799.2 L803.9,799.3 L805.9,799.3 L807.9,799.4 L809.9,799.4 L811.8,799.5 L813.8,799.5 L815.8,799.6 L817.8,799.7 L819.8,799.7 L821.8,799.8 L823.8,799.9 L825.8,800.0 L827.8,800.0 L829.8,800.1 L831.8,800.2 L833.8,800.3 L835.7,800.4 L837.7,800.5 L839.7,800.6 L841.7,800.7 L843.7,800.8 L845.7,800.9 L847.7,801.0 L849.7,801.1 L851.7,801.2 L853.7,801.3 L855.6,801.4 L857.6,801.6 L859.6,801.7 L861.6,801.8 L863.6,801.9 L865.6,802.0 L867.6,802.2 L869.6,802.3 L871.6,802.4 L873.6,802.5 L875.5,802.7 L877.5,802.8 L879.5,802.9 L881.5,803.1 L883.5,803.2 L885.5,803.3 L887.5,803.5 L889.5,803.6 L891.5,803.8 L893.4,803.9 L895.4,804.1 L897.4,804.2 L899.4,804.3 L901.4,804.5 L903.4,804.6 L905.4,804.8 L907.4,804.9 L909.4,805.1 L911.4,805.3 L913.3,805.4 L915.3,805.6 L917.3,805.7 L919.3,805.9 L921.3,806.0 L923.3,806.2 L925.3,806.3 L927.3,806.5 L929.3,806.7 L931.3,806.8 L933.2,807.0 L935.2,807.1 L937.2,807.3 L939.2,807.5 L941.2,807.6 L943.2,807.8 L945.2,808.0 L947.2,808.1 L949.2,808.3 L951.2,808.4 L953.1,808.6 L955.1,808.8 L957.1,808.9 L959.1,809.1 L961.1,809.3 L963.1,809.4 L965.1,809.6 L967.1,809.7 L969.1,809.9 L971.1,810.1 L973.1,810.2 L975.0,810.4 L977.0,810.6 L979.0,810.7 L981.0,810.9 L983.0,811.0 L985.0,811.2 L987.0,811.3 L989.0,811.5 L991.0,811.7 L993.0,811.8 L995.0,812.0 L997.0,812.1 L999.0,812.3 L1001.0,812.4 L1002.9,812.6 L1004.9,812.7 L1006.9,812.9 L1008.9,813.0 L1010.9,813.2 L1012.9,813.3 L1014.9,813.5 L1016.9,813.6 L1018.9,813.8 L1020.9,813.9 L1022.9,814.0 L1024.9,814.2 L1026.9,814.3 L1028.9,814.5 L1030.9,814.6 L1032.9,814.7 L1034.9,814.9 L1036.9,815.0 L1038.9,815.1 L1040.8,815.3 L1042.8,815.4 L1044.8,815.5 L1046.8,815.6 L1048.8,815.8 L1050.8,815.9 L1052.8,816.0 L1054.8,816.1 L1056.8,816.2 L1058.8,816.4 L1060.8,816.5 L1062.8,816.6 L1064.8,816.7 L1066.8,816.8 L1068.8,816.9 L1070.8,817.1 L1072.8,817.2 L1074.8,817.3 L1076.8,817.4 L1078.8,817.5 L1080.8,817.6 L1082.8,817.7 L1084.8,817.8 L1086.8,817.9 L1088.8,818.0 L1090.8,818.1 L1092.8,818.2 L1094.8,818.3 L1096.8,818.4 L1098.8,818.5 L1100.8,818.6 L1102.8,818.7 L1104.8,818.8 L1106.8,818.9 L1108.8,819.0 L1110.8,819.1 L1112.8,819.2 L1114.8,819.3 L1116.8,819.4 L1118.8,819.5 L1120.8,819.6 L1122.8,819.7 L1124.8,819.8 L1126.8,819.9 L1128.8,820.0 L1130.8,820.0 L1132.8,820.1 L1134.8,820.2 L1136.8,820.3 L1138.8,820.4 L1140.8,820.5 L1142.8,820.6 L1144.8,820.7 L1146.8,820.7 L1148.8,820.8 L1150.8,820.9 L1152.8,821.0 L1154.8,821.1 L1156.8,821.1 L1158.8,821.2 L1160.8,821.3 L1162.8,821.4 L1164.8,821.5 L1166.8,821.5 L1168.8,821.6 L1170.8,821.7 L1172.8,821.8 L1174.8,821.9 L1176.8,821.9 L1178.8,822.0 L1180.8,822.1 L1182.8,822.2 L1184.8,822.2 L1186.8,822.3 L1188.8,822.4 L1190.8,822.5 L1192.8,822.5 L1194.8,822.6 L1196.8,822.7 L1198.9,822.8 L1200.9,822.8 L1202.9,822.9 L1204.9,823.0 L1206.9,823.1 L1208.9,823.1 L1210.9,823.2 L1212.9,823.3 L1214.9,823.3 L1216.9,823.4 L1218.9,823.5 L1220.9,823.6 L1222.9,823.6 L1224.9,823.7 L1226.9,823.8 L1228.9,823.8 L1230.9,823.9 L1232.9,824.0 L1234.9,824.1 L1236.9,824.1 L1238.9,824.2 L1240.9,824.3 L1242.9,824.3 L1244.9,824.4 L1246.9,824.5 L1248.9,824.6 L1250.9,824.6 L1252.9,824.7 L1254.9,824.8 L1256.9,824.8 L1258.9,824.9 L1260.9,825.0 L1262.9,825.1 L1264.9,825.1 L1266.9,825.2 L1268.9,825.3 L1270.9,825.3 L1272.9,825.4 L1274.9,825.5 L1276.9,825.6 L1278.9,825.6 L1280.9,825.7 L1282.9,825.8 L1284.9,825.9 L1286.9,825.9 L1288.9,826.0 L1290.9,826.1 L1292.9,826.2 L1294.9,826.2 L1296.9,826.3 L1298.9,826.4 L1300.9,826.5 L1302.9,826.5 L1304.9,826.6 L1306.9,826.7 L1308.9,826.8 L1310.9,826.9 L1312.9,826.9 L1314.9,827.0 L1316.9,827.1 L1318.9,827.2 L1320.9,827.3 L1322.9,827.3 L1324.9,827.4 L1326.9,827.5 L1328.9,827.6 L1330.9,827.7 L1332.9,827.8 L1334.9,827.8 L1336.9,827.9 L1338.9,828.0 L1340.9,828.1 L1342.9,828.2 L1344.8,828.3 L1346.8,828.4 L1348.8,828.4 L1350.8,828.5 L1352.8,828.6 L1354.8,828.7 L1356.8,828.8 L1358.8,828.9 L1360.8,829.0 L1362.8,829.1 L1364.8,829.2 L1366.8,829.3 L1368.8,829.4 L1370.8,829.5 L1372.8,829.6 L1374.8,829.7 L1376.8,829.8 L1378.8,829.9 L1380.8,830.0 L1382.8,830.1 L1384.7,830.2 L1386.7,830.3 L1388.7,830.4 L1390.7,830.5 L1392.7,830.6 L1394.7,830.7 L1396.7,830.8 L1398.7,830.9 L1400.7,831.0 L1402.7,831.1 L1404.7,831.2 L1406.7,831.4 L1408.7,831.5 L1410.6,831.6 L1412.6,831.7 L1414.6,831.8 L1416.6,831.9 L1418.6,832.1 L1420.6,832.2 L1422.6,832.3 L1424.6,832.4 L1426.6,832.5 L1428.6,832.7 L1430.5,832.8 L1432.5,832.9 L1434.5,833.0 L1436.5,833.2 L1438.5,833.3" fill="none" stroke="#D26E28" stroke-width="11" stroke-linejoin="round" stroke-linecap="butt"/>
<path d="M201.5,921.5 L201.6,923.5 L201.7,925.5 L201.8,927.4 L201.9,929.4 L201.9,931.4 L202.0,933.4 L202.1,935.4 L202.2,937.4 L202.3,939.3 L202.3,941.3 L202.4,943.3 L202.5,945.3 L202.5,947.3 L202.6,949.3 L202.7,951.3 L202.7,953.3 L202.8,955.2 L202.8,957.2 L202.9,959.2 L203.0,961.2 L203.0,963.2 L203.1,965.2 L203.1,967.2 L203.2,969.2 L203.2,971.2 L203.3,973.2 L203.3,975.2 L203.4,977.2 L203.4,979.2 L203.4,981.2 L203.5,983.2 L203.5,985.2 L203.6,987.2 L203.6,989.2 L203.6,991.2 L203.7,993.2 L203.7,995.2 L203.8,997.2 L203.8,999.2 L203.8,1001.2 L203.9,1003.2 L203.9,1005.2 L203.9,1007.2 L204.0,1009.2 L204.0,1011.2 L204.0,1013.2 L204.1,1015.2 L204.1,1017.2 L204.1,1019.2 L204.2,1021.2 L204.2,1023.2 L204.2,1025.2 L204.3,1027.2 L204.3,1029.2 L204.3,1031.2 L204.4,1033.2 L204.4,1035.2 L204.5,1037.2 L204.5,1039.2 L204.5,1041.2 L204.6,1043.2 L204.6,1045.2 L204.6,1047.2 L204.7,1049.2 L204.7,1051.2 L204.8,1053.2 L204.8,1055.3 L204.9,1057.3 L204.9,1059.3 L204.9,1061.3 L205.0,1063.3 L205.0,1065.3 L205.1,1067.3 L205.1,1069.3 L205.2,1071.3 L205.2,1073.3 L205.3,1075.3 L205.4,1077.3 L205.4,1079.3 L205.5,1081.3 L205.5,1083.3 L205.6,1085.3 L205.7,1087.3 L205.7,1089.3 L205.8,1091.3 L205.9,1093.3 L205.9,1095.3 L206.0,1097.3 L206.1,1099.3 L206.2,1101.4 L206.2,1103.4 L206.3,1105.4 L206.4,1107.4 L206.5,1109.4 L206.6,1111.4 L206.7,1113.4 L206.8,1115.4 L206.9,1117.4 L207.0,1119.4 L207.1,1121.4 L207.2,1123.4 L207.3,1125.4 L207.4,1127.4 L207.5,1129.4 L207.6,1131.4 L207.7,1133.4 L207.9,1135.3 L208.0,1137.3 L208.1,1139.3 L208.3,1141.3 L208.4,1143.3 L208.5,1145.3 L208.7,1147.3 L208.8,1149.3 L209.0,1151.3 L209.1,1153.3 L209.3,1155.3 L209.4,1157.3 L209.6,1159.3 L209.7,1161.3 L209.9,1163.3 L210.1,1165.2 L210.3,1167.2 L210.4,1169.2 L210.6,1171.2 L210.8,1173.2 L211.0,1175.2 L211.2,1177.2 L211.4,1179.1 L211.6,1181.1 L211.8,1183.1 L212.0,1185.1 L212.3,1187.1 L212.5,1189.1 L212.7,1191.0 L212.9,1193.0 L213.2,1195.0 L213.4,1197.0 L213.7,1199.0 L213.9,1200.9 L214.2,1202.9 L214.4,1204.9 L214.7,1206.9 L215.0,1208.8 L215.2,1210.8 L215.5,1212.8 L215.8,1214.7 L216.1,1216.7 L216.4,1218.7 L216.7,1220.7 L217.0,1222.6 L217.3,1224.6 L217.6,1226.5 L217.9,1228.5 L218.3,1230.5 L218.6,1232.4 L218.9,1234.4 L219.3,1236.4 L219.6,1238.3 L220.0,1240.3 L220.3,1242.2 L220.7,1244.2 L221.1,1246.1 L221.4,1248.1 L221.8,1250.1 L222.2,1252.0 L222.6,1254.0 L223.0,1255.9 L223.4,1257.9 L223.8,1259.8 L224.3,1261.7 L224.7,1263.7 L225.1,1265.6 L225.6,1267.6 L226.0,1269.5 L226.5,1271.5 L226.9,1273.4 L227.4,1275.3 L227.9,1277.3 L228.3,1279.2 L228.8,1281.1 L229.3,1283.1 L229.8,1285.0 L230.3,1286.9 L230.9,1288.9 L231.4,1290.8 L231.9,1292.7 L232.4,1294.6 L233.0,1296.6 L233.5,1298.5 L234.1,1300.4 L234.7,1302.3 L235.2,1304.3 L235.8,1306.2 L236.4,1308.1 L237.0,1310.0 L237.8,1308.1 L238.5,1306.3 L239.2,1304.4 L240.0,1302.6 L240.7,1300.7 L241.5,1298.9 L242.2,1297.0 L242.9,1295.1 L243.6,1293.3 L244.4,1291.4 L245.1,1289.6 L245.8,1287.7 L246.5,1285.8 L247.2,1284.0 L247.9,1282.1 L248.6,1280.2 L249.3,1278.4 L250.0,1276.5 L250.7,1274.6 L251.4,1272.8 L252.1,1270.9 L252.8,1269.0 L253.5,1267.1 L254.2,1265.3 L254.9,1263.4 L255.5,1261.5 L256.2,1259.6 L256.9,1257.8 L257.6,1255.9 L258.2,1254.0 L258.9,1252.1 L259.6,1250.2 L260.2,1248.4 L260.9,1246.5 L261.5,1244.6 L262.2,1242.7 L262.8,1240.8 L263.5,1239.0 L264.1,1237.1 L264.8,1235.2 L265.4,1233.3 L266.0,1231.4 L266.7,1229.5 L267.3,1227.6 L267.9,1225.7 L268.6,1223.8 L269.2,1221.9 L269.8,1220.1 L270.4,1218.2 L271.1,1216.3 L271.7,1214.4 L272.3,1212.5 L272.9,1210.6 L273.5,1208.7 L274.1,1206.8 L274.7,1204.9 L275.3,1203.0 L275.9,1201.1 L276.5,1199.2 L277.1,1197.3 L277.7,1195.4 L278.3,1193.5 L278.9,1191.6 L279.5,1189.7 L280.0,1187.8 L280.6,1185.9 L281.2,1184.0 L281.8,1182.0 L282.4,1180.1 L282.9,1178.2 L283.5,1176.3 L284.1,1174.4 L284.6,1172.5 L285.2,1170.6 L285.8,1168.7 L286.3,1166.8 L286.9,1164.9 L287.4,1162.9 L288.0,1161.0 L288.5,1159.1 L289.1,1157.2 L289.6,1155.3 L290.2,1153.4 L290.7,1151.4 L291.3,1149.5 L291.8,1147.6 L292.3,1145.7 L292.9,1143.8 L293.4,1141.9 L293.9,1139.9 L294.5,1138.0 L295.0,1136.1 L295.5,1134.2 L296.1,1132.2 L296.6,1130.3 L297.1,1128.4 L297.6,1126.5 L298.1,1124.5 L298.6,1122.6 L299.2,1120.7 L299.7,1118.8 L300.2,1116.8 L300.7,1114.9 L301.2,1113.0 L301.7,1111.0 L302.2,1109.1 L302.7,1107.2 L303.2,1105.3 L303.7,1103.3 L304.2,1101.4 L304.7,1099.5 L305.2,1097.5 L305.7,1095.6 L306.1,1093.7 L306.6,1091.7 L307.1,1089.8 L307.6,1087.9 L308.1,1085.9 L308.6,1084.0 L309.0,1082.0 L309.5,1080.1 L310.0,1078.2 L310.5,1076.2 L310.9,1074.3 L311.4,1072.4 L311.9,1070.4 L312.3,1068.5 L312.8,1066.5 L313.3,1064.6 L313.7,1062.6 L314.2,1060.7 L314.7,1058.8 L315.1,1056.8 L315.6,1054.9 L316.0,1052.9 L316.5,1051.0 L316.9,1049.0 L317.4,1047.1 L317.8,1045.2 L318.3,1043.2 L318.7,1041.3 L319.2,1039.3 L319.6,1037.4 L320.1,1035.4 L320.5,1033.5 L320.9,1031.5 L321.4,1029.6 L321.8,1027.6 L322.2,1025.7 L322.7,1023.7 L323.1,1021.8 L323.5,1019.8 L324.0,1017.9 L324.4,1015.9 L324.8,1014.0 L325.3,1012.0 L325.7,1010.1 L326.1,1008.1 L326.5,1006.2 L327.0,1004.2 L327.4,1002.3 L327.8,1000.3 L328.2,998.3 L328.6,996.4 L329.1,994.4 L329.5,992.5 L329.9,990.5 L330.3,988.6 L330.7,986.6 L331.1,984.7 L331.5,982.7 L331.9,980.7 L332.3,978.8 L332.8,976.8 L333.2,974.9 L333.6,972.9 L334.0,970.9 L334.4,969.0 L334.8,967.0 L335.2,965.1 L335.6,963.1 L336.0,961.2 L336.4,959.2 L336.8,957.2 L337.2,955.3 L337.6,953.3 L338.0,951.3 L338.4,949.4 L338.7,947.4 L339.1,945.5 L339.5,943.5 L339.9,941.5 L340.3,939.6 L340.7,937.6 L341.1,935.7 L341.5,933.7 L341.9,931.7 L342.2,929.8 L342.6,927.8 L343.0,925.8 L343.4,923.9 L343.8,921.9 L344.2,919.9 L344.5,918.0 L344.9,916.0 L345.3,914.0 L345.7,912.1 L346.1,910.1 L346.4,908.1 L346.8,906.2 L347.2,904.2 L347.6,902.3 L348.0,900.3 L348.3,898.3 L348.7,896.4 L349.1,894.4 L349.4,892.4 L349.8,890.5 L350.2,888.5 L350.6,886.5 L350.9,884.6 L351.3,882.6 L351.7,880.6 L352.0,878.7 L352.4,876.7 L352.8,874.7 L353.2,872.7 L353.5,870.8 L353.9,868.8 L354.3,866.8 L354.6,864.9 L355.0,862.9 L355.4,860.9 L355.7,859.0 L356.1,857.0 L356.5,855.0 L356.8,853.1 L357.2,851.1 L357.5,849.1 L357.9,847.2 L358.3,845.2 L358.6,843.2 L359.0,841.3 L359.4,839.3 L359.7,837.3 L360.1,835.4 L360.5,833.4 L360.8,831.4 L361.2,829.4 L361.5,827.5 L361.9,825.5 L362.3,823.5 L362.6,821.6 L363.0,819.6 L363.3,817.6 L363.7,815.7 L364.1,813.7 L364.4,811.7 L364.8,809.8 L365.1,807.8 L365.5,805.8 L365.9,803.9 L366.2,801.9 L366.6,799.9 L367.0,797.9 L367.3,796.0 L367.7,794.0 L368.0,792.0 L368.4,790.1 L368.8,788.1 L369.1,786.1 L369.5,784.2 L369.8,782.2 L370.2,780.2 L370.6,778.3 L370.9,776.3 L371.3,774.3 L371.6,772.4 L372.0,770.4 L372.4,768.4 L372.7,766.5 L373.1,764.5 L373.4,762.5 L373.8,760.6 L374.2,758.6 L374.5,756.6 L374.9,754.7 L375.3,752.7 L375.6,750.7 L376.0,748.8 L376.3,746.8 L376.7,744.8 L377.1,742.9 L377.4,740.9 L377.8,738.9 L378.2,737.0 L378.5,735.0 L378.9,733.0 L379.3,731.1 L379.6,729.1 L380.0,727.2 L380.4,725.2 L380.7,723.2 L381.1,721.3 L381.5,719.3 L381.8,717.3 L382.2,715.4 L382.6,713.4 L383.0,711.4 L383.3,709.5 L383.7,707.5 L384.1,705.6 L384.4,703.6 L384.8,701.6 L385.2,699.7 L385.6,697.7 L385.9,695.8 L386.3,693.8 L386.7,691.8 L387.1,689.9 L387.4,687.9 L387.8,686.0 L388.2,684.0 L388.6,682.0 L388.9,680.1 L389.3,678.1 L389.7,676.2 L390.1,674.2 L390.5,672.2 L390.8,670.3 L391.2,668.3 L391.6,666.4 L392.0,664.4 L392.4,662.4 L392.8,660.5 L393.2,658.5 L393.5,656.6 L393.9,654.6 L394.3,652.7 L394.7,650.7 L395.1,648.8 L395.5,646.8 L395.9,644.8 L396.3,642.9 L396.6,640.9 L397.0,639.0 L397.4,637.0 L397.8,635.1 L398.2,633.1 L398.6,631.2 L399.0,629.2 L399.4,627.2 L399.8,625.3 L400.2,623.3 L400.6,621.4 L401.0,619.4 L401.4,617.5 L401.8,615.5 L402.2,613.6 L402.6,611.6 L403.0,609.7 L403.4,607.7 L403.8,605.8 L404.2,603.8 L404.6,601.9 L405.0,599.9 L405.4,598.0 L405.8,596.0 L406.2,594.1 L406.6,592.1 L407.0,590.2 L407.4,588.2 L407.8,586.2 L408.2,584.3 L408.6,582.3 L409.1,580.4 L409.5,578.4 L409.9,576.5 L410.3,574.5 L410.7,572.6 L411.1,570.6 L411.5,568.7 L411.9,566.7 L412.4,564.8 L412.8,562.8 L413.2,560.9 L413.6,559.0 L414.0,557.0 L414.5,555.1 L414.9,553.1 L415.3,551.2 L415.7,549.2 L416.1,547.3 L416.6,545.3 L417.0,543.4 L417.4,541.4 L417.8,539.5 L418.3,537.5 L418.7,535.6 L419.1,533.6 L419.5,531.7 L420.0,529.7 L420.4,527.8 L420.8,525.8 L421.3,523.9 L421.7,521.9 L422.1,520.0 L422.6,518.0 L423.0,516.1 L423.4,514.2 L423.9,512.2 L424.3,510.3 L424.8,508.3 L425.2,506.4 L425.6,504.4 L426.1,502.5 L426.5,500.5 L427.0,498.6 L427.4,496.6 L427.9,494.7 L428.3,492.7 L428.7,490.8 L429.2,488.9 L429.6,486.9 L430.1,485.0 L430.5,483.0 L431.0,481.1 L431.4,479.1 L431.9,477.2 L432.3,475.2 L432.8,473.3 L433.2,471.3 L433.7,469.4 L434.1,467.5 L434.6,465.5 L435.0,463.6 L435.5,461.6 L435.9,459.7 L436.4,457.7 L436.8,455.8 L437.2,453.8 L437.7,451.9 L438.1,449.9 L438.6,447.9 L439.0,446.0 L439.4,444.0 L439.8,442.1 L440.3,440.1 L440.7,438.1 L441.1,436.2 L441.5,434.2 L441.9,432.3 L442.3,430.3 L442.7,428.3 L443.1,426.4 L443.5,424.4 L443.9,422.4 L444.2,420.4 L444.6,418.4 L445.0,416.5 L445.3,414.5 L445.7,412.5 L446.1,410.5 L446.4,408.5 L446.7,406.5 L447.1,404.5 L447.4,402.5 L447.7,400.5 L448.0,398.5 L448.3,396.5 L448.6,394.5 L448.9,392.5 L449.2,390.5 L449.5,388.5 L449.8,386.5 L450.0,384.5 L450.3,382.5 L450.6,380.5 L450.9,378.4 L451.1,376.4 L451.4,374.4 L451.7,372.4 L452.0,370.4 L452.3,368.4 L452.5,366.4 L452.8,364.4 L453.1,362.4 L453.4,360.4 L453.8,358.5 L454.1,356.5 L454.4,354.5 L454.7,352.5 L455.1,350.6 L455.5,348.6 L455.8,346.7 L456.2,344.7 L456.6,342.8 L457.0,340.9 L457.4,339.0 L457.9,337.1 L458.3,335.2 L458.8,333.3 L459.3,331.4 L459.8,329.5 L460.3,327.6 L460.9,325.8 L461.4,323.9 L462.0,322.1 L462.6,320.3 L463.3,318.5 L463.9,316.7 L464.6,314.9 L465.3,313.2 L466.0,311.4 L466.8,309.7 L467.6,307.9 L468.4,306.2 L469.2,304.5 L470.1,302.8 L471.0,301.2 L471.9,299.5 L472.8,297.9 L473.8,296.3 L474.9,294.7 L475.9,293.1 L477.0,291.5 L478.1,290.0 L479.3,288.5 L480.5,287.0 L481.7,285.5 L483.0,284.0 L484.3,285.5 L485.6,287.0 L486.8,288.6 L488.1,290.1 L489.3,291.7 L490.5,293.2 L491.8,294.8 L493.0,296.4 L494.2,297.9 L495.4,299.5 L496.6,301.1 L497.8,302.7 L498.9,304.3 L500.1,305.9 L501.3,307.5 L502.4,309.2 L503.6,310.8 L504.7,312.4 L505.9,314.1 L507.0,315.7 L508.1,317.4 L509.2,319.0 L510.3,320.7 L511.5,322.3 L512.6,324.0 L513.7,325.6 L514.8,327.3 L515.8,329.0 L516.9,330.7 L518.0,332.4 L519.1,334.0 L520.2,335.7 L521.3,337.4 L522.3,339.1 L523.4,340.8 L524.5,342.5 L525.5,344.2 L526.6,345.9 L527.6,347.6 L528.7,349.3 L529.8,351.0 L530.8,352.7 L531.9,354.4 L532.9,356.1 L534.0,357.8 L535.0,359.5 L536.1,361.2 L537.2,362.9 L538.2,364.7 L539.3,366.4 L540.3,368.1 L541.4,369.8 L542.4,371.5 L543.5,373.2 L544.6,374.9 L545.6,376.6 L546.7,378.3 L547.8,380.0 L548.9,381.7 L549.9,383.4 L551.0,385.1 L552.1,386.8 L553.2,388.5 L554.3,390.1 L555.4,391.8 L556.5,393.5 L557.6,395.2 L558.7,396.8 L559.8,398.5 L560.9,400.2 L562.0,401.8 L563.2,403.5 L564.3,405.2 L565.4,406.8 L566.6,408.4 L567.7,410.1 L568.9,411.7 L570.1,413.4 L571.2,415.0 L572.4,416.6 L573.6,418.2 L574.8,419.8 L576.0,421.4 L577.2,423.1 L578.4,424.7 L579.6,426.3 L580.8,427.8 L582.0,429.4 L583.2,431.0 L584.5,432.6 L585.7,434.2 L587.0,435.8 L588.2,437.3 L589.4,438.9 L590.7,440.4 L592.0,442.0 L593.2,443.5 L594.5,445.1 L595.8,446.6 L597.1,448.2 L598.4,449.7 L599.6,451.2 L600.9,452.8 L602.2,454.3 L603.6,455.8 L604.9,457.3 L606.2,458.8 L607.5,460.3 L608.8,461.8 L610.2,463.3 L611.5,464.8 L612.9,466.3 L614.2,467.8 L615.5,469.2 L616.9,470.7 L618.3,472.2 L619.6,473.6 L621.0,475.1 L622.4,476.5 L623.8,478.0 L625.1,479.4 L626.5,480.9 L627.9,482.3 L629.3,483.7 L630.7,485.2 L632.1,486.6 L633.5,488.0 L635.0,489.4 L636.4,490.8 L637.8,492.2 L639.2,493.6 L640.7,495.0 L642.1,496.4 L643.5,497.8 L645.0,499.2 L646.4,500.6 L647.9,501.9 L649.4,503.3 L650.8,504.7 L652.3,506.0 L653.8,507.4 L655.2,508.7 L656.7,510.1 L658.2,511.4 L659.7,512.7 L661.2,514.1 L662.7,515.4 L664.2,516.7 L665.7,518.0 L667.2,519.3 L668.7,520.6 L670.2,521.9 L671.7,523.2 L673.2,524.5 L674.8,525.8 L676.3,527.1 L677.8,528.4 L679.4,529.7 L680.9,530.9 L682.4,532.2 L684.0,533.5 L685.5,534.7 L687.1,536.0 L688.7,537.2 L690.2,538.4 L691.8,539.7 L693.4,540.9 L694.9,542.1 L696.5,543.4 L698.1,544.6 L699.7,545.8 L701.2,547.0 L702.8,548.2 L704.4,549.4 L706.0,550.6 L707.6,551.8 L709.2,553.0 L710.8,554.1 L712.4,555.3 L714.0,556.5 L715.7,557.6 L717.3,558.8 L718.9,559.9 L720.5,561.1 L722.1,562.2 L723.8,563.4 L725.4,564.5 L727.0,565.6 L728.7,566.8 L730.3,567.9 L732.0,569.0 L733.6,570.1 L735.3,571.2 L736.9,572.3 L738.6,573.4 L740.2,574.5 L741.9,575.6 L743.5,576.7 L745.2,577.7 L746.9,578.8 L748.6,579.9 L750.2,580.9 L751.9,582.0 L753.6,583.0 L755.3,584.1 L756.9,585.1 L758.6,586.2 L760.3,587.2 L762.0,588.2 L763.7,589.3 L765.4,590.3 L767.1,591.3 L768.8,592.3 L770.5,593.3 L772.2,594.3 L773.9,595.3 L775.6,596.3 L777.4,597.3 L779.1,598.2 L780.8,599.2 L782.5,600.2 L784.2,601.2 L786.0,602.1 L787.7,603.1 L789.4,604.0 L791.2,605.0 L792.9,605.9 L794.6,606.9 L796.4,607.8 L798.1,608.7 L799.9,609.7 L801.6,610.6 L803.4,611.5 L805.1,612.4 L806.9,613.3 L808.6,614.2 L810.4,615.1 L812.2,616.0 L813.9,616.9 L815.7,617.8 L817.5,618.7 L819.2,619.6 L821.0,620.4 L822.8,621.3 L824.6,622.2 L826.4,623.0 L828.1,623.9 L829.9,624.8 L831.7,625.6 L833.5,626.5 L835.3,627.3 L837.1,628.1 L838.9,629.0 L840.7,629.8 L842.5,630.6 L844.3,631.4 L846.1,632.3 L847.9,633.1 L849.7,633.9 L851.5,634.7 L853.3,635.5 L855.1,636.3 L857.0,637.1 L858.8,637.9 L860.6,638.7 L862.4,639.4 L864.2,640.2 L866.1,641.0 L867.9,641.8 L869.7,642.5 L871.6,643.3 L873.4,644.0 L875.2,644.8 L877.1,645.5 L878.9,646.3 L880.7,647.0 L882.6,647.8 L884.4,648.5 L886.3,649.2 L888.1,650.0 L890.0,650.7 L891.8,651.4 L893.7,652.1 L895.5,652.8 L897.4,653.6 L899.3,654.3 L901.1,655.0 L903.0,655.7 L904.9,656.4 L906.7,657.0 L908.6,657.7 L910.5,658.4 L912.3,659.1 L914.2,659.8 L916.1,660.4 L918.0,661.1 L919.8,661.8 L921.7,662.4 L923.6,663.1 L925.5,663.8 L927.4,664.4 L929.2,665.1 L931.1,665.7 L933.0,666.4 L934.9,667.0 L936.8,667.6 L938.7,668.3 L940.6,668.9 L942.5,669.5 L944.4,670.1 L946.3,670.8 L948.2,671.4 L950.1,672.0 L952.0,672.6 L953.9,673.2 L955.8,673.8 L957.7,674.4 L959.6,675.0 L961.5,675.6 L963.5,676.2 L965.4,676.8 L967.3,677.4 L969.2,677.9 L971.1,678.5 L973.0,679.1 L975.0,679.7 L976.9,680.2 L978.8,680.8 L980.7,681.4 L982.7,681.9 L984.6,682.5 L986.5,683.0 L988.4,683.6 L990.4,684.1 L992.3,684.7 L994.2,685.2 L996.2,685.8 L998.1,686.3 L1000.0,686.8 L1002.0,687.3 L1003.9,687.9 L1005.9,688.4 L1007.8,688.9 L1009.7,689.4 L1011.7,690.0 L1013.6,690.5 L1015.6,691.0 L1017.5,691.5 L1019.5,692.0 L1021.4,692.5 L1023.4,693.0 L1025.3,693.5 L1027.3,694.0 L1029.2,694.5 L1031.2,695.0 L1033.1,695.4 L1035.1,695.9 L1037.0,696.4 L1039.0,696.9 L1041.0,697.4 L1042.9,697.8 L1044.9,698.3 L1046.8,698.8 L1048.8,699.2 L1050.8,699.7 L1052.7,700.2 L1054.7,700.6 L1056.7,701.1 L1058.6,701.5 L1060.6,702.0 L1062.6,702.4 L1064.5,702.9 L1066.5,703.3 L1068.5,703.8 L1070.5,704.2 L1072.4,704.6 L1074.4,705.1 L1076.4,705.5 L1078.3,705.9 L1080.3,706.3 L1082.3,706.8 L1084.3,707.2 L1086.2,707.6 L1088.2,708.0 L1090.2,708.4 L1092.2,708.9 L1094.2,709.3 L1096.1,709.7 L1098.1,710.1 L1100.1,710.5 L1102.1,710.9 L1104.1,711.3 L1106.1,711.7 L1108.0,712.1 L1110.0,712.5 L1112.0,712.9 L1114.0,713.3 L1116.0,713.6 L1118.0,714.0 L1120.0,714.4 L1121.9,714.8 L1123.9,715.2 L1125.9,715.5 L1127.9,715.9 L1129.9,716.3 L1131.9,716.7 L1133.9,717.0 L1135.9,717.4 L1137.9,717.8 L1139.9,718.1 L1141.8,718.5 L1143.8,718.9 L1145.8,719.2 L1147.8,719.6 L1149.8,719.9 L1151.8,720.3 L1153.8,720.6 L1155.8,721.0 L1157.8,721.3 L1159.8,721.7 L1161.8,722.0 L1163.8,722.3 L1165.8,722.7 L1167.8,723.0 L1169.8,723.4 L1171.8,723.7 L1173.8,724.0 L1175.7,724.4 L1177.7,724.7 L1179.7,725.0 L1181.7,725.3 L1183.7,725.7 L1185.7,726.0 L1187.7,726.3 L1189.7,726.6 L1191.7,727.0 L1193.7,727.3 L1195.7,727.6 L1197.7,727.9 L1199.7,728.2 L1201.7,728.5 L1203.7,728.8 L1205.7,729.1 L1207.7,729.5 L1209.7,729.8 L1211.7,730.1 L1213.7,730.4 L1215.7,730.7 L1217.7,731.0 L1219.7,731.3 L1221.7,731.6 L1223.7,731.9 L1225.7,732.2 L1227.7,732.5 L1229.7,732.7 L1231.7,733.0 L1233.7,733.3 L1235.7,733.6 L1237.7,733.9 L1239.7,734.2 L1241.7,734.5 L1243.7,734.8 L1245.7,735.0 L1247.7,735.3 L1249.6,735.6 L1251.6,735.9 L1253.6,736.2 L1255.6,736.4 L1257.6,736.7 L1259.6,737.0 L1261.6,737.3 L1263.6,737.5 L1265.6,737.8 L1267.6,738.1 L1269.6,738.4 L1271.6,738.6 L1273.6,738.9 L1275.6,739.2 L1277.6,739.4 L1279.5,739.7 L1281.5,740.0 L1283.5,740.2 L1285.5,740.5 L1287.5,740.8 L1289.5,741.0 L1291.5,741.3 L1293.5,741.5 L1295.5,741.8 L1297.4,742.1 L1299.4,742.3 L1301.4,742.6 L1303.4,742.8 L1305.4,743.1 L1307.4,743.3 L1309.4,743.6 L1311.3,743.8 L1313.3,744.1 L1315.3,744.3 L1317.3,744.6 L1319.3,744.8 L1321.2,745.1 L1323.2,745.3 L1325.2,745.6 L1327.2,745.8 L1329.2,746.1 L1331.1,746.3 L1333.1,746.6 L1335.1,746.8 L1337.1,747.1 L1339.0,747.3 L1341.0,747.6 L1343.0,747.8 L1345.0,748.1 L1346.9,748.3 L1348.9,748.5 L1350.9,748.8 L1352.8,749.0 L1354.8,749.3 L1356.8,749.5 L1358.7,749.7 L1360.7,750.0 L1362.7,750.2 L1364.6,750.5 L1366.6,750.7 L1368.6,750.9 L1370.5,751.2 L1372.5,751.4 L1374.4,751.7 L1376.4,751.9 L1378.3,752.1 L1380.3,752.4 L1382.3,752.6 L1384.2,752.9 L1386.2,753.1 L1388.1,753.3 L1390.1,753.6 L1392.0,753.8 L1394.0,754.0 L1395.9,754.3 L1397.9,754.5 L1399.8,754.8 L1401.8,755.0 L1403.7,755.2 L1405.6,755.5 L1407.6,755.7 L1409.5,755.9 L1411.5,756.2 L1413.4,756.4 L1415.3,756.6 L1417.3,756.9 L1419.2,757.1 L1421.1,757.4 L1423.1,757.6 L1425.0,757.8 L1426.9,758.1 L1428.9,758.3 L1430.8,758.5 L1432.7,758.8 L1434.6,759.0 L1436.6,759.3 L1438.5,759.5" fill="none" stroke="#939393" stroke-width="11" stroke-linejoin="round" stroke-linecap="butt"/>
<path d="M201.5,962.0 L201.6,964.0 L201.7,966.0 L201.8,967.9 L201.9,969.9 L202.0,971.9 L202.1,973.9 L202.2,975.8 L202.3,977.8 L202.4,979.8 L202.5,981.8 L202.6,983.8 L202.6,985.8 L202.7,987.7 L202.8,989.7 L202.9,991.7 L203.0,993.7 L203.0,995.7 L203.1,997.7 L203.2,999.6 L203.3,1001.6 L203.3,1003.6 L203.4,1005.6 L203.5,1007.6 L203.5,1009.6 L203.6,1011.6 L203.7,1013.6 L203.7,1015.6 L203.8,1017.5 L203.8,1019.5 L203.9,1021.5 L204.0,1023.5 L204.0,1025.5 L204.1,1027.5 L204.1,1029.5 L204.2,1031.5 L204.2,1033.5 L204.3,1035.5 L204.4,1037.5 L204.4,1039.5 L204.5,1041.5 L204.5,1043.5 L204.6,1045.4 L204.6,1047.4 L204.7,1049.4 L204.7,1051.4 L204.8,1053.4 L204.8,1055.4 L204.9,1057.4 L204.9,1059.4 L205.0,1061.4 L205.1,1063.4 L205.1,1065.4 L205.2,1067.4 L205.2,1069.4 L205.3,1071.4 L205.3,1073.4 L205.4,1075.4 L205.4,1077.4 L205.5,1079.4 L205.6,1081.4 L205.6,1083.4 L205.7,1085.4 L205.8,1087.4 L205.8,1089.4 L205.9,1091.4 L205.9,1093.4 L206.0,1095.4 L206.1,1097.4 L206.1,1099.4 L206.2,1101.4 L206.3,1103.3 L206.4,1105.3 L206.4,1107.3 L206.5,1109.3 L206.6,1111.3 L206.7,1113.3 L206.8,1115.3 L206.8,1117.3 L206.9,1119.3 L207.0,1121.3 L207.1,1123.3 L207.2,1125.3 L207.3,1127.3 L207.4,1129.3 L207.5,1131.3 L207.6,1133.3 L207.7,1135.3 L207.8,1137.3 L207.9,1139.3 L208.0,1141.3 L208.1,1143.2 L208.2,1145.2 L208.3,1147.2 L208.4,1149.2 L208.6,1151.2 L208.7,1153.2 L208.8,1155.2 L208.9,1157.2 L209.1,1159.2 L209.2,1161.2 L209.4,1163.2 L209.5,1165.1 L209.6,1167.1 L209.8,1169.1 L209.9,1171.1 L210.1,1173.1 L210.3,1175.1 L210.4,1177.1 L210.6,1179.0 L210.8,1181.0 L210.9,1183.0 L211.1,1185.0 L211.3,1187.0 L211.5,1189.0 L211.6,1190.9 L211.8,1192.9 L212.0,1194.9 L212.2,1196.9 L212.4,1198.9 L212.6,1200.8 L212.9,1202.8 L213.1,1204.8 L213.3,1206.8 L213.5,1208.7 L213.7,1210.7 L214.0,1212.7 L214.2,1214.7 L214.5,1216.6 L214.7,1218.6 L215.0,1220.6 L215.2,1222.6 L215.5,1224.5 L215.7,1226.5 L216.0,1228.5 L216.3,1230.4 L216.6,1232.4 L216.8,1234.4 L217.1,1236.3 L217.4,1238.3 L217.7,1240.3 L218.0,1242.2 L218.3,1244.2 L218.7,1246.1 L219.0,1248.1 L219.3,1250.1 L219.6,1252.0 L220.0,1254.0 L220.3,1255.9 L220.7,1257.9 L221.0,1259.8 L221.4,1261.8 L221.8,1263.7 L222.1,1265.7 L222.5,1267.6 L222.9,1269.6 L223.3,1271.5 L223.7,1273.5 L224.1,1275.4 L224.5,1277.4 L224.9,1279.3 L225.3,1281.3 L225.8,1283.2 L226.2,1285.1 L226.6,1287.1 L227.1,1289.0 L227.5,1291.0 L228.0,1292.9 L228.5,1294.8 L228.9,1296.8 L229.4,1298.7 L229.9,1300.6 L230.4,1302.5 L230.9,1304.5 L231.4,1306.4 L231.9,1308.3 L232.5,1310.2 L233.0,1312.2 L233.5,1314.1 L234.1,1316.0 L234.6,1317.9 L235.2,1319.8 L235.7,1321.8 L236.3,1323.7 L236.9,1325.6 L237.5,1327.5 L238.1,1325.6 L238.8,1323.7 L239.4,1321.8 L240.0,1319.9 L240.6,1318.0 L241.2,1316.1 L241.8,1314.2 L242.4,1312.3 L243.0,1310.4 L243.6,1308.5 L244.2,1306.6 L244.8,1304.7 L245.4,1302.8 L246.0,1300.9 L246.6,1299.0 L247.2,1297.1 L247.8,1295.2 L248.4,1293.3 L249.0,1291.4 L249.6,1289.5 L250.2,1287.6 L250.8,1285.7 L251.3,1283.8 L251.9,1281.9 L252.5,1280.0 L253.1,1278.1 L253.6,1276.1 L254.2,1274.2 L254.8,1272.3 L255.4,1270.4 L255.9,1268.5 L256.5,1266.6 L257.0,1264.7 L257.6,1262.8 L258.2,1260.9 L258.7,1258.9 L259.3,1257.0 L259.8,1255.1 L260.4,1253.2 L260.9,1251.3 L261.5,1249.4 L262.0,1247.5 L262.6,1245.5 L263.1,1243.6 L263.7,1241.7 L264.2,1239.8 L264.8,1237.9 L265.3,1236.0 L265.8,1234.0 L266.4,1232.1 L266.9,1230.2 L267.4,1228.3 L268.0,1226.4 L268.5,1224.4 L269.0,1222.5 L269.6,1220.6 L270.1,1218.7 L270.6,1216.7 L271.1,1214.8 L271.6,1212.9 L272.2,1211.0 L272.7,1209.1 L273.2,1207.1 L273.7,1205.2 L274.2,1203.3 L274.7,1201.4 L275.2,1199.4 L275.8,1197.5 L276.3,1195.6 L276.8,1193.6 L277.3,1191.7 L277.8,1189.8 L278.3,1187.9 L278.8,1185.9 L279.3,1184.0 L279.8,1182.1 L280.3,1180.1 L280.8,1178.2 L281.3,1176.3 L281.7,1174.3 L282.2,1172.4 L282.7,1170.5 L283.2,1168.6 L283.7,1166.6 L284.2,1164.7 L284.7,1162.8 L285.1,1160.8 L285.6,1158.9 L286.1,1156.9 L286.6,1155.0 L287.1,1153.1 L287.5,1151.1 L288.0,1149.2 L288.5,1147.3 L289.0,1145.3 L289.4,1143.4 L289.9,1141.5 L290.4,1139.5 L290.8,1137.6 L291.3,1135.6 L291.8,1133.7 L292.2,1131.8 L292.7,1129.8 L293.1,1127.9 L293.6,1125.9 L294.1,1124.0 L294.5,1122.1 L295.0,1120.1 L295.4,1118.2 L295.9,1116.2 L296.3,1114.3 L296.8,1112.4 L297.2,1110.4 L297.7,1108.5 L298.1,1106.5 L298.6,1104.6 L299.0,1102.6 L299.5,1100.7 L299.9,1098.8 L300.4,1096.8 L300.8,1094.9 L301.2,1092.9 L301.7,1091.0 L302.1,1089.0 L302.6,1087.1 L303.0,1085.1 L303.4,1083.2 L303.9,1081.2 L304.3,1079.3 L304.7,1077.3 L305.2,1075.4 L305.6,1073.4 L306.0,1071.5 L306.4,1069.6 L306.9,1067.6 L307.3,1065.7 L307.7,1063.7 L308.1,1061.8 L308.6,1059.8 L309.0,1057.9 L309.4,1055.9 L309.8,1054.0 L310.3,1052.0 L310.7,1050.1 L311.1,1048.1 L311.5,1046.1 L311.9,1044.2 L312.3,1042.2 L312.8,1040.3 L313.2,1038.3 L313.6,1036.4 L314.0,1034.4 L314.4,1032.5 L314.8,1030.5 L315.2,1028.6 L315.6,1026.6 L316.0,1024.7 L316.4,1022.7 L316.8,1020.8 L317.3,1018.8 L317.7,1016.8 L318.1,1014.9 L318.5,1012.9 L318.9,1011.0 L319.3,1009.0 L319.7,1007.1 L320.1,1005.1 L320.5,1003.1 L320.9,1001.2 L321.3,999.2 L321.7,997.3 L322.1,995.3 L322.4,993.4 L322.8,991.4 L323.2,989.4 L323.6,987.5 L324.0,985.5 L324.4,983.6 L324.8,981.6 L325.2,979.7 L325.6,977.7 L326.0,975.7 L326.4,973.8 L326.7,971.8 L327.1,969.9 L327.5,967.9 L327.9,965.9 L328.3,964.0 L328.7,962.0 L329.1,960.1 L329.4,958.1 L329.8,956.1 L330.2,954.2 L330.6,952.2 L331.0,950.2 L331.4,948.3 L331.7,946.3 L332.1,944.4 L332.5,942.4 L332.9,940.4 L333.2,938.5 L333.6,936.5 L334.0,934.5 L334.4,932.6 L334.8,930.6 L335.1,928.7 L335.5,926.7 L335.9,924.7 L336.3,922.8 L336.6,920.8 L337.0,918.8 L337.4,916.9 L337.7,914.9 L338.1,913.0 L338.5,911.0 L338.9,909.0 L339.2,907.1 L339.6,905.1 L340.0,903.1 L340.3,901.2 L340.7,899.2 L341.1,897.2 L341.4,895.3 L341.8,893.3 L342.2,891.3 L342.6,889.4 L342.9,887.4 L343.3,885.4 L343.7,883.5 L344.0,881.5 L344.4,879.5 L344.8,877.6 L345.1,875.6 L345.5,873.6 L345.8,871.7 L346.2,869.7 L346.6,867.8 L346.9,865.8 L347.3,863.8 L347.7,861.9 L348.0,859.9 L348.4,857.9 L348.8,856.0 L349.1,854.0 L349.5,852.0 L349.8,850.1 L350.2,848.1 L350.6,846.1 L350.9,844.2 L351.3,842.2 L351.7,840.2 L352.0,838.3 L352.4,836.3 L352.7,834.3 L353.1,832.4 L353.5,830.4 L353.8,828.4 L354.2,826.4 L354.5,824.5 L354.9,822.5 L355.3,820.5 L355.6,818.6 L356.0,816.6 L356.3,814.6 L356.7,812.7 L357.1,810.7 L357.4,808.7 L357.8,806.8 L358.1,804.8 L358.5,802.8 L358.9,800.9 L359.2,798.9 L359.6,796.9 L359.9,795.0 L360.3,793.0 L360.7,791.0 L361.0,789.1 L361.4,787.1 L361.7,785.1 L362.1,783.2 L362.5,781.2 L362.8,779.2 L363.2,777.3 L363.5,775.3 L363.9,773.3 L364.3,771.4 L364.6,769.4 L365.0,767.4 L365.3,765.5 L365.7,763.5 L366.1,761.5 L366.4,759.6 L366.8,757.6 L367.1,755.6 L367.5,753.7 L367.9,751.7 L368.2,749.7 L368.6,747.8 L368.9,745.8 L369.3,743.8 L369.7,741.9 L370.0,739.9 L370.4,737.9 L370.8,736.0 L371.1,734.0 L371.5,732.0 L371.8,730.1 L372.2,728.1 L372.6,726.1 L372.9,724.2 L373.3,722.2 L373.7,720.2 L374.0,718.3 L374.4,716.3 L374.8,714.3 L375.1,712.4 L375.5,710.4 L375.9,708.4 L376.2,706.5 L376.6,704.5 L377.0,702.5 L377.3,700.6 L377.7,698.6 L378.1,696.6 L378.4,694.7 L378.8,692.7 L379.2,690.8 L379.5,688.8 L379.9,686.8 L380.3,684.9 L380.7,682.9 L381.0,680.9 L381.4,679.0 L381.8,677.0 L382.2,675.0 L382.5,673.1 L382.9,671.1 L383.3,669.2 L383.6,667.2 L384.0,665.2 L384.4,663.3 L384.8,661.3 L385.2,659.3 L385.5,657.4 L385.9,655.4 L386.3,653.5 L386.7,651.5 L387.0,649.5 L387.4,647.6 L387.8,645.6 L388.2,643.6 L388.6,641.7 L388.9,639.7 L389.3,637.8 L389.7,635.8 L390.1,633.8 L390.5,631.9 L390.9,629.9 L391.3,628.0 L391.6,626.0 L392.0,624.0 L392.4,622.1 L392.8,620.1 L393.2,618.2 L393.6,616.2 L394.0,614.2 L394.4,612.3 L394.8,610.3 L395.1,608.4 L395.5,606.4 L395.9,604.5 L396.3,602.5 L396.7,600.5 L397.1,598.6 L397.5,596.6 L397.9,594.7 L398.3,592.7 L398.7,590.8 L399.1,588.8 L399.5,586.8 L399.9,584.9 L400.3,582.9 L400.7,581.0 L401.1,579.0 L401.5,577.1 L401.9,575.1 L402.3,573.2 L402.7,571.2 L403.1,569.2 L403.5,567.3 L404.0,565.3 L404.4,563.4 L404.8,561.4 L405.2,559.5 L405.6,557.5 L406.0,555.6 L406.4,553.6 L406.8,551.7 L407.3,549.7 L407.7,547.8 L408.1,545.8 L408.5,543.9 L408.9,541.9 L409.3,540.0 L409.8,538.0 L410.2,536.1 L410.6,534.1 L411.0,532.2 L411.5,530.2 L411.9,528.3 L412.3,526.3 L412.7,524.4 L413.2,522.4 L413.6,520.5 L414.0,518.5 L414.5,516.6 L414.9,514.6 L415.3,512.7 L415.8,510.7 L416.2,508.8 L416.6,506.8 L417.1,504.9 L417.5,503.0 L417.9,501.0 L418.4,499.1 L418.8,497.1 L419.3,495.2 L419.7,493.2 L420.2,491.3 L420.6,489.3 L421.1,487.4 L421.5,485.5 L422.0,483.5 L422.4,481.6 L422.9,479.6 L423.3,477.7 L423.8,475.8 L424.2,473.8 L424.7,471.9 L425.1,469.9 L425.6,468.0 L426.1,466.1 L426.5,464.1 L427.0,462.2 L427.4,460.2 L427.9,458.3 L428.4,456.4 L428.8,454.4 L429.3,452.5 L429.8,450.5 L430.2,448.6 L430.7,446.7 L431.2,444.7 L431.7,442.8 L432.1,440.9 L432.6,438.9 L433.1,437.0 L433.6,435.1 L434.1,433.1 L434.5,431.2 L435.0,429.3 L435.5,427.3 L436.0,425.4 L436.5,423.5 L437.0,421.5 L437.5,419.6 L438.0,417.7 L438.5,415.7 L439.0,413.8 L439.4,411.9 L439.9,410.0 L440.4,408.0 L440.9,406.1 L441.4,404.2 L442.0,402.2 L442.5,400.3 L443.0,398.4 L443.5,396.5 L444.0,394.5 L444.5,392.6 L445.0,390.7 L445.5,388.8 L446.0,386.8 L446.5,384.9 L447.1,383.0 L447.6,381.1 L448.1,379.2 L448.6,377.2 L449.2,375.3 L449.7,373.4 L450.2,371.5 L450.7,369.5 L451.3,367.6 L451.8,365.7 L452.3,363.8 L452.9,361.9 L453.4,360.0 L453.9,358.0 L454.5,356.1 L455.0,354.2 L455.6,352.3 L456.1,350.4 L456.7,348.5 L457.2,346.5 L457.7,344.6 L458.3,342.7 L458.9,340.8 L459.4,338.9 L460.0,337.0 L460.5,335.1 L461.1,333.1 L461.6,331.2 L462.2,329.3 L462.8,327.4 L463.3,325.5 L463.9,323.6 L464.5,321.7 L465.0,319.8 L465.6,317.9 L466.2,316.0 L466.8,314.0 L467.3,312.1 L467.9,310.2 L468.5,308.3 L469.1,306.4 L469.7,304.5 L470.3,302.6 L470.8,300.7 L471.4,298.8 L472.0,296.9 L472.6,295.0 L473.2,293.1 L473.8,291.2 L474.4,289.3 L475.0,287.4 L475.6,285.5 L476.2,283.6 L476.8,281.7 L477.4,279.8 L478.1,277.9 L478.7,276.0 L479.3,274.1 L479.9,272.2 L480.5,270.3 L481.1,268.4 L481.8,266.5 L482.4,264.6 L483.0,262.7 L483.6,260.9 L484.3,259.0 L484.9,257.1 L485.5,255.2 L486.2,253.3 L486.8,251.4 L487.5,249.5 L488.1,247.6 L488.7,245.7 L489.4,243.8 L490.0,242.0 L490.7,240.1 L491.3,238.2 L492.0,236.3 L492.6,234.4 L493.3,232.5 L494.0,230.6 L494.6,228.8 L495.3,226.9 L496.0,225.0 L496.6,223.1 L497.3,221.2 L498.0,219.3 L498.6,217.5 L499.3,215.6 L500.0,213.7 L500.7,211.8 L501.4,210.0 L502.0,208.1 L502.7,206.2 L503.4,204.3 L504.1,202.5 L504.8,200.6 L505.5,198.7 L506.2,196.8 L506.9,195.0 L507.6,193.1 L508.3,191.2 L509.0,189.3 L509.7,187.5 L510.4,185.6 L511.2,183.7 L511.9,181.9 L512.6,180.0 L513.6,178.3 L514.4,176.5 L515.2,174.7 L515.9,172.9 L516.6,171.0 L517.3,169.1 L518.1,167.3 L518.9,165.4 L519.8,163.6 L521.0,161.9 L522.2,160.2 L523.7,158.7 L525.3,157.6 L527.0,156.9 L528.7,156.8 L530.3,157.4 L531.9,158.4 L533.4,159.9 L534.8,161.5 L535.9,163.2 L536.9,165.0 L537.8,166.8 L538.5,168.7 L539.2,170.6 L539.8,172.5 L540.3,174.4 L540.9,176.3 L541.5,178.2 L542.1,180.0 L542.7,181.9 L543.3,183.8 L543.9,185.7 L544.5,187.6 L545.1,189.6 L545.8,191.5 L546.4,193.4 L547.0,195.3 L547.7,197.2 L548.3,199.1 L549.0,201.0 L549.6,202.9 L550.3,204.7 L551.0,206.6 L551.7,208.5 L552.4,210.4 L553.0,212.3 L553.7,214.2 L554.4,216.1 L555.2,217.9 L555.9,219.8 L556.6,221.7 L557.3,223.6 L558.1,225.4 L558.8,227.3 L559.5,229.2 L560.3,231.0 L561.0,232.9 L561.8,234.7 L562.6,236.6 L563.3,238.5 L564.1,240.3 L564.9,242.2 L565.7,244.0 L566.5,245.8 L567.3,247.7 L568.1,249.5 L568.9,251.4 L569.7,253.2 L570.6,255.0 L571.4,256.9 L572.2,258.7 L573.1,260.5 L573.9,262.3 L574.8,264.2 L575.6,266.0 L576.5,267.8 L577.3,269.6 L578.2,271.4 L579.1,273.2 L580.0,275.0 L580.9,276.8 L581.8,278.6 L582.7,280.4 L583.6,282.2 L584.5,284.0 L585.4,285.8 L586.3,287.6 L587.3,289.3 L588.2,291.1 L589.1,292.9 L590.1,294.7 L591.0,296.4 L592.0,298.2 L592.9,300.0 L593.9,301.7 L594.9,303.5 L595.8,305.3 L596.8,307.0 L597.8,308.8 L598.8,310.5 L599.8,312.3 L600.8,314.0 L601.8,315.7 L602.8,317.5 L603.8,319.2 L604.8,320.9 L605.9,322.7 L606.9,324.4 L607.9,326.1 L609.0,327.8 L610.0,329.5 L611.1,331.2 L612.1,332.9 L613.2,334.6 L614.3,336.3 L615.3,338.0 L616.4,339.7 L617.5,341.4 L618.6,343.1 L619.7,344.8 L620.8,346.5 L621.9,348.2 L623.0,349.8 L624.1,351.5 L625.2,353.2 L626.3,354.8 L627.4,356.5 L628.6,358.2 L629.7,359.8 L630.8,361.5 L632.0,363.1 L633.1,364.8 L634.3,366.4 L635.5,368.0 L636.6,369.7 L637.8,371.3 L639.0,372.9 L640.1,374.5 L641.3,376.2 L642.5,377.8 L643.7,379.4 L644.9,381.0 L646.1,382.6 L647.3,384.2 L648.5,385.8 L649.7,387.4 L650.9,389.0 L652.2,390.6 L653.4,392.1 L654.6,393.7 L655.8,395.3 L657.1,396.9 L658.3,398.4 L659.6,400.0 L660.8,401.5 L662.1,403.1 L663.4,404.7 L664.6,406.2 L665.9,407.7 L667.2,409.3 L668.4,410.8 L669.7,412.3 L671.0,413.9 L672.3,415.4 L673.6,416.9 L674.9,418.4 L676.2,419.9 L677.5,421.4 L678.8,422.9 L680.2,424.4 L681.5,425.9 L682.8,427.4 L684.1,428.9 L685.5,430.4 L686.8,431.9 L688.2,433.3 L689.5,434.8 L690.9,436.3 L692.2,437.7 L693.6,439.2 L694.9,440.6 L696.3,442.1 L697.7,443.5 L699.1,445.0 L700.4,446.4 L701.8,447.8 L703.2,449.3 L704.6,450.7 L706.0,452.1 L707.4,453.5 L708.8,454.9 L710.2,456.3 L711.6,457.7 L713.0,459.1 L714.5,460.5 L715.9,461.9 L717.3,463.3 L718.7,464.6 L720.2,466.0 L721.6,467.4 L723.1,468.7 L724.5,470.1 L725.9,471.5 L727.4,472.8 L728.9,474.1 L730.3,475.5 L731.8,476.8 L733.3,478.1 L734.7,479.5 L736.2,480.8 L737.7,482.1 L739.2,483.4 L740.6,484.7 L742.1,486.0 L743.6,487.3 L745.1,488.6 L746.6,489.9 L748.1,491.2 L749.6,492.5 L751.2,493.7 L752.7,495.0 L754.2,496.3 L755.7,497.5 L757.2,498.8 L758.8,500.0 L760.3,501.3 L761.8,502.5 L763.4,503.7 L764.9,505.0 L766.5,506.2 L768.0,507.4 L769.6,508.6 L771.1,509.8 L772.7,511.1 L774.2,512.3 L775.8,513.5 L777.4,514.6 L779.0,515.8 L780.5,517.0 L782.1,518.2 L783.7,519.4 L785.3,520.6 L786.9,521.7 L788.5,522.9 L790.1,524.0 L791.7,525.2 L793.3,526.3 L794.9,527.5 L796.5,528.6 L798.1,529.8 L799.7,530.9 L801.3,532.0 L802.9,533.2 L804.6,534.3 L806.2,535.4 L807.8,536.5 L809.5,537.6 L811.1,538.7 L812.7,539.8 L814.4,540.9 L816.0,542.0 L817.7,543.1 L819.3,544.2 L821.0,545.2 L822.6,546.3 L824.3,547.4 L825.9,548.4 L827.6,549.5 L829.3,550.6 L831.0,551.6 L832.6,552.7 L834.3,553.7 L836.0,554.7 L837.7,555.8 L839.4,556.8 L841.0,557.8 L842.7,558.9 L844.4,559.9 L846.1,560.9 L847.8,561.9 L849.5,562.9 L851.2,563.9 L852.9,564.9 L854.6,565.9 L856.4,566.9 L858.1,567.9 L859.8,568.9 L861.5,569.8 L863.2,570.8 L865.0,571.8 L866.7,572.7 L868.4,573.7 L870.2,574.7 L871.9,575.6 L873.6,576.6 L875.4,577.5 L877.1,578.5 L878.9,579.4 L880.6,580.3 L882.4,581.3 L884.1,582.2 L885.9,583.1 L887.6,584.0 L889.4,585.0 L891.2,585.9 L892.9,586.8 L894.7,587.7 L896.5,588.6 L898.2,589.5 L900.0,590.4 L901.8,591.3 L903.6,592.2 L905.4,593.0 L907.1,593.9 L908.9,594.8 L910.7,595.7 L912.5,596.5 L914.3,597.4 L916.1,598.3 L917.9,599.1 L919.7,600.0 L921.5,600.8 L923.3,601.7 L925.1,602.5 L926.9,603.3 L928.7,604.2 L930.5,605.0 L932.4,605.8 L934.2,606.7 L936.0,607.5 L937.8,608.3 L939.6,609.1 L941.5,609.9 L943.3,610.7 L945.1,611.5 L947.0,612.3 L948.8,613.1 L950.6,613.9 L952.5,614.7 L954.3,615.5 L956.1,616.3 L958.0,617.1 L959.8,617.8 L961.7,618.6 L963.5,619.4 L965.4,620.1 L967.2,620.9 L969.1,621.7 L970.9,622.4 L972.8,623.2 L974.7,623.9 L976.5,624.7 L978.4,625.4 L980.3,626.1 L982.1,626.9 L984.0,627.6 L985.9,628.3 L987.7,629.1 L989.6,629.8 L991.5,630.5 L993.4,631.2 L995.2,631.9 L997.1,632.6 L999.0,633.4 L1000.9,634.1 L1002.8,634.8 L1004.7,635.5 L1006.5,636.1 L1008.4,636.8 L1010.3,637.5 L1012.2,638.2 L1014.1,638.9 L1016.0,639.6 L1017.9,640.2 L1019.8,640.9 L1021.7,641.6 L1023.6,642.2 L1025.5,642.9 L1027.4,643.6 L1029.3,644.2 L1031.2,644.9 L1033.1,645.5 L1035.1,646.2 L1037.0,646.8 L1038.9,647.5 L1040.8,648.1 L1042.7,648.7 L1044.6,649.4 L1046.6,650.0 L1048.5,650.6 L1050.4,651.2 L1052.3,651.9 L1054.2,652.5 L1056.2,653.1 L1058.1,653.7 L1060.0,654.3 L1061.9,654.9 L1063.9,655.5 L1065.8,656.1 L1067.7,656.7 L1069.7,657.3 L1071.6,657.9 L1073.5,658.5 L1075.5,659.1 L1077.4,659.7 L1079.4,660.3 L1081.3,660.8 L1083.2,661.4 L1085.2,662.0 L1087.1,662.6 L1089.1,663.1 L1091.0,663.7 L1093.0,664.2 L1094.9,664.8 L1096.9,665.4 L1098.8,665.9 L1100.8,666.5 L1102.7,667.0 L1104.7,667.6 L1106.6,668.1 L1108.6,668.6 L1110.5,669.2 L1112.5,669.7 L1114.4,670.3 L1116.4,670.8 L1118.3,671.3 L1120.3,671.8 L1122.3,672.4 L1124.2,672.9 L1126.2,673.4 L1128.1,673.9 L1130.1,674.4 L1132.1,674.9 L1134.0,675.4 L1136.0,675.9 L1138.0,676.4 L1139.9,676.9 L1141.9,677.4 L1143.9,677.9 L1145.8,678.4 L1147.8,678.9 L1149.8,679.4 L1151.7,679.9 L1153.7,680.4 L1155.7,680.9 L1157.6,681.3 L1159.6,681.8 L1161.6,682.3 L1163.6,682.8 L1165.5,683.2 L1167.5,683.7 L1169.5,684.2 L1171.5,684.6 L1173.4,685.1 L1175.4,685.5 L1177.4,686.0 L1179.4,686.5 L1181.3,686.9 L1183.3,687.4 L1185.3,687.8 L1187.3,688.2 L1189.2,688.7 L1191.2,689.1 L1193.2,689.6 L1195.2,690.0 L1197.2,690.4 L1199.1,690.9 L1201.1,691.3 L1203.1,691.7 L1205.1,692.1 L1207.1,692.6 L1209.0,693.0 L1211.0,693.4 L1213.0,693.8 L1215.0,694.2 L1217.0,694.6 L1218.9,695.1 L1220.9,695.5 L1222.9,695.9 L1224.9,696.3 L1226.9,696.7 L1228.8,697.1 L1230.8,697.5 L1232.8,697.9 L1234.8,698.3 L1236.8,698.7 L1238.8,699.0 L1240.7,699.4 L1242.7,699.8 L1244.7,700.2 L1246.7,700.6 L1248.7,701.0 L1250.6,701.4 L1252.6,701.7 L1254.6,702.1 L1256.6,702.5 L1258.6,702.8 L1260.5,703.2 L1262.5,703.6 L1264.5,704.0 L1266.5,704.3 L1268.5,704.7 L1270.5,705.0 L1272.4,705.4 L1274.4,705.8 L1276.4,706.1 L1278.4,706.5 L1280.3,706.8 L1282.3,707.2 L1284.3,707.5 L1286.3,707.9 L1288.3,708.2 L1290.2,708.5 L1292.2,708.9 L1294.2,709.2 L1296.2,709.6 L1298.1,709.9 L1300.1,710.2 L1302.1,710.6 L1304.1,710.9 L1306.0,711.2 L1308.0,711.6 L1310.0,711.9 L1312.0,712.2 L1313.9,712.5 L1315.9,712.9 L1317.9,713.2 L1319.8,713.5 L1321.8,713.8 L1323.8,714.1 L1325.8,714.5 L1327.7,714.8 L1329.7,715.1 L1331.7,715.4 L1333.6,715.7 L1335.6,716.0 L1337.6,716.3 L1339.5,716.6 L1341.5,716.9 L1343.4,717.2 L1345.4,717.5 L1347.4,717.8 L1349.3,718.1 L1351.3,718.4 L1353.2,718.7 L1355.2,719.0 L1357.2,719.3 L1359.1,719.6 L1361.1,719.9 L1363.0,720.2 L1365.0,720.4 L1366.9,720.7 L1368.9,721.0 L1370.8,721.3 L1372.8,721.6 L1374.7,721.9 L1376.7,722.1 L1378.6,722.4 L1380.6,722.7 L1382.5,723.0 L1384.5,723.2 L1386.4,723.5 L1388.4,723.8 L1390.3,724.1 L1392.3,724.3 L1394.2,724.6 L1396.1,724.9 L1398.1,725.1 L1400.0,725.4 L1401.9,725.7 L1403.9,725.9 L1405.8,726.2 L1407.7,726.5 L1409.7,726.7 L1411.6,727.0 L1413.5,727.2 L1415.5,727.5 L1417.4,727.7 L1419.3,728.0 L1421.2,728.3 L1423.2,728.5 L1425.1,728.8 L1427.0,729.0 L1428.9,729.3 L1430.8,729.5 L1432.8,729.8 L1434.7,730.0 L1436.6,730.2 L1438.5,730.5" fill="none" stroke="#DEAA00" stroke-width="11" stroke-linejoin="round" stroke-linecap="butt"/>
<path d="M201.5,964.0 L201.6,966.0 L201.7,968.0 L201.8,969.9 L201.9,971.9 L201.9,973.9 L202.0,975.9 L202.1,977.9 L202.2,979.9 L202.3,981.9 L202.3,983.8 L202.4,985.8 L202.5,987.8 L202.6,989.8 L202.6,991.8 L202.7,993.8 L202.8,995.8 L202.8,997.8 L202.9,999.8 L203.0,1001.7 L203.0,1003.7 L203.1,1005.7 L203.2,1007.7 L203.2,1009.7 L203.3,1011.7 L203.3,1013.7 L203.4,1015.7 L203.5,1017.7 L203.5,1019.7 L203.6,1021.7 L203.6,1023.7 L203.7,1025.7 L203.7,1027.7 L203.8,1029.7 L203.8,1031.7 L203.9,1033.7 L204.0,1035.7 L204.0,1037.7 L204.1,1039.7 L204.1,1041.7 L204.2,1043.7 L204.2,1045.7 L204.3,1047.6 L204.3,1049.6 L204.4,1051.6 L204.4,1053.6 L204.5,1055.6 L204.5,1057.6 L204.6,1059.6 L204.6,1061.6 L204.7,1063.7 L204.7,1065.7 L204.8,1067.7 L204.8,1069.7 L204.9,1071.7 L204.9,1073.7 L205.0,1075.7 L205.1,1077.7 L205.1,1079.7 L205.2,1081.7 L205.2,1083.7 L205.3,1085.7 L205.3,1087.7 L205.4,1089.7 L205.5,1091.7 L205.5,1093.7 L205.6,1095.7 L205.7,1097.7 L205.7,1099.7 L205.8,1101.7 L205.9,1103.7 L205.9,1105.7 L206.0,1107.7 L206.1,1109.7 L206.1,1111.7 L206.2,1113.7 L206.3,1115.7 L206.4,1117.7 L206.4,1119.7 L206.5,1121.7 L206.6,1123.7 L206.7,1125.7 L206.8,1127.7 L206.9,1129.7 L207.0,1131.7 L207.1,1133.7 L207.2,1135.7 L207.2,1137.7 L207.3,1139.7 L207.4,1141.7 L207.5,1143.7 L207.7,1145.7 L207.8,1147.7 L207.9,1149.7 L208.0,1151.7 L208.1,1153.7 L208.2,1155.7 L208.3,1157.7 L208.5,1159.7 L208.6,1161.7 L208.7,1163.7 L208.8,1165.6 L209.0,1167.6 L209.1,1169.6 L209.2,1171.6 L209.4,1173.6 L209.5,1175.6 L209.7,1177.6 L209.8,1179.6 L210.0,1181.6 L210.1,1183.6 L210.3,1185.6 L210.5,1187.6 L210.6,1189.6 L210.8,1191.5 L211.0,1193.5 L211.1,1195.5 L211.3,1197.5 L211.5,1199.5 L211.7,1201.5 L211.9,1203.5 L212.1,1205.5 L212.3,1207.4 L212.5,1209.4 L212.7,1211.4 L212.9,1213.4 L213.1,1215.4 L213.3,1217.4 L213.5,1219.3 L213.8,1221.3 L214.0,1223.3 L214.2,1225.3 L214.5,1227.3 L214.7,1229.2 L215.0,1231.2 L215.2,1233.2 L215.5,1235.2 L215.7,1237.1 L216.0,1239.1 L216.2,1241.1 L216.5,1243.1 L216.8,1245.0 L217.1,1247.0 L217.4,1249.0 L217.7,1250.9 L218.0,1252.9 L218.3,1254.9 L218.6,1256.8 L218.9,1258.8 L219.2,1260.8 L219.5,1262.7 L219.8,1264.7 L220.2,1266.7 L220.5,1268.6 L220.8,1270.6 L221.2,1272.6 L221.5,1274.5 L221.9,1276.5 L222.3,1278.4 L222.6,1280.4 L223.0,1282.3 L223.4,1284.3 L223.8,1286.2 L224.2,1288.2 L224.5,1290.1 L224.9,1292.1 L225.4,1294.0 L225.8,1296.0 L226.2,1297.9 L226.6,1299.9 L227.0,1301.8 L227.5,1303.8 L227.9,1305.7 L228.4,1307.7 L228.8,1309.6 L229.3,1311.5 L229.8,1313.5 L230.2,1315.4 L230.7,1317.4 L231.2,1319.3 L231.7,1321.2 L232.2,1323.2 L232.7,1325.1 L233.2,1327.0 L233.7,1328.9 L234.3,1330.9 L234.8,1332.8 L235.3,1334.7 L235.9,1336.7 L236.4,1338.6 L237.0,1340.5 L237.6,1342.4 L238.1,1344.3 L238.7,1346.3 L239.3,1348.2 L239.9,1350.1 L240.5,1352.0 L241.4,1350.3 L242.3,1348.5 L243.3,1346.7 L244.1,1345.0 L245.0,1343.2 L245.9,1341.4 L246.8,1339.6 L247.6,1337.9 L248.5,1336.1 L249.3,1334.3 L250.1,1332.5 L251.0,1330.7 L251.8,1328.9 L252.6,1327.1 L253.4,1325.3 L254.1,1323.5 L254.9,1321.6 L255.7,1319.8 L256.4,1318.0 L257.2,1316.2 L257.9,1314.3 L258.7,1312.5 L259.4,1310.7 L260.1,1308.8 L260.8,1307.0 L261.5,1305.1 L262.2,1303.3 L262.9,1301.4 L263.6,1299.6 L264.2,1297.7 L264.9,1295.8 L265.6,1294.0 L266.2,1292.1 L266.9,1290.2 L267.5,1288.3 L268.1,1286.5 L268.7,1284.6 L269.4,1282.7 L270.0,1280.8 L270.6,1278.9 L271.2,1277.0 L271.8,1275.1 L272.3,1273.2 L272.9,1271.3 L273.5,1269.4 L274.1,1267.5 L274.6,1265.6 L275.2,1263.7 L275.7,1261.8 L276.3,1259.9 L276.8,1258.0 L277.3,1256.0 L277.9,1254.1 L278.4,1252.2 L278.9,1250.3 L279.4,1248.3 L280.0,1246.4 L280.5,1244.5 L281.0,1242.6 L281.5,1240.6 L282.0,1238.7 L282.4,1236.8 L282.9,1234.8 L283.4,1232.9 L283.9,1230.9 L284.4,1229.0 L284.8,1227.0 L285.3,1225.1 L285.8,1223.1 L286.2,1221.2 L286.7,1219.2 L287.1,1217.3 L287.6,1215.3 L288.0,1213.4 L288.5,1211.4 L288.9,1209.5 L289.4,1207.5 L289.8,1205.6 L290.2,1203.6 L290.7,1201.6 L291.1,1199.7 L291.5,1197.7 L292.0,1195.8 L292.4,1193.8 L292.8,1191.8 L293.2,1189.9 L293.7,1187.9 L294.1,1185.9 L294.5,1184.0 L294.9,1182.0 L295.3,1180.0 L295.8,1178.1 L296.2,1176.1 L296.6,1174.1 L297.0,1172.2 L297.4,1170.2 L297.8,1168.2 L298.2,1166.3 L298.6,1164.3 L299.1,1162.3 L299.5,1160.4 L299.9,1158.4 L300.3,1156.4 L300.7,1154.5 L301.1,1152.5 L301.5,1150.6 L301.9,1148.6 L302.4,1146.6 L302.8,1144.7 L303.2,1142.7 L303.6,1140.7 L304.0,1138.8 L304.4,1136.8 L304.9,1134.8 L305.3,1132.9 L305.7,1130.9 L306.1,1129.0 L306.6,1127.0 L307.0,1125.1 L307.4,1123.1 L307.9,1121.1 L308.3,1119.2 L308.7,1117.2 L309.2,1115.3 L309.6,1113.3 L310.0,1111.4 L310.5,1109.4 L310.9,1107.5 L311.4,1105.5 L311.8,1103.6 L312.3,1101.6 L312.7,1099.7 L313.2,1097.7 L313.6,1095.8 L314.1,1093.9 L314.5,1091.9 L315.0,1090.0 L315.5,1088.0 L315.9,1086.1 L316.4,1084.2 L316.8,1082.2 L317.3,1080.3 L317.8,1078.3 L318.3,1076.4 L318.7,1074.5 L319.2,1072.5 L319.7,1070.6 L320.2,1068.7 L320.6,1066.7 L321.1,1064.8 L321.6,1062.9 L322.1,1060.9 L322.6,1059.0 L323.0,1057.1 L323.5,1055.1 L324.0,1053.2 L324.5,1051.3 L325.0,1049.4 L325.5,1047.4 L326.0,1045.5 L326.5,1043.6 L327.0,1041.7 L327.5,1039.7 L328.0,1037.8 L328.5,1035.9 L329.0,1034.0 L329.5,1032.0 L330.0,1030.1 L330.5,1028.2 L331.0,1026.3 L331.5,1024.4 L332.0,1022.4 L332.6,1020.5 L333.1,1018.6 L333.6,1016.7 L334.1,1014.8 L334.6,1012.9 L335.1,1010.9 L335.7,1009.0 L336.2,1007.1 L336.7,1005.2 L337.2,1003.3 L337.8,1001.4 L338.3,999.5 L338.8,997.5 L339.3,995.6 L339.9,993.7 L340.4,991.8 L340.9,989.9 L341.5,988.0 L342.0,986.1 L342.5,984.2 L343.1,982.2 L343.6,980.3 L344.2,978.4 L344.7,976.5 L345.3,974.6 L345.8,972.7 L346.3,970.8 L346.9,968.9 L347.4,967.0 L348.0,965.1 L348.5,963.2 L349.1,961.2 L349.6,959.3 L350.2,957.4 L350.7,955.5 L351.3,953.6 L351.9,951.7 L352.4,949.8 L353.0,947.9 L353.5,946.0 L354.1,944.1 L354.7,942.2 L355.2,940.3 L355.8,938.4 L356.3,936.5 L356.9,934.6 L357.5,932.7 L358.0,930.7 L358.6,928.8 L359.2,926.9 L359.8,925.0 L360.3,923.1 L360.9,921.2 L361.5,919.3 L362.0,917.4 L362.6,915.5 L363.2,913.6 L363.8,911.7 L364.3,909.8 L364.9,907.9 L365.5,906.0 L366.1,904.1 L366.7,902.2 L367.2,900.3 L367.8,898.4 L368.4,896.5 L369.0,894.6 L369.6,892.7 L370.2,890.8 L370.8,888.9 L371.3,886.9 L371.9,885.0 L372.5,883.1 L373.1,881.2 L373.7,879.3 L374.3,877.4 L374.9,875.5 L375.5,873.6 L376.1,871.7 L376.7,869.8 L377.3,867.9 L377.9,866.0 L378.5,864.1 L379.1,862.2 L379.6,860.3 L380.2,858.4 L380.8,856.5 L381.4,854.6 L382.0,852.6 L382.6,850.7 L383.2,848.8 L383.8,846.9 L384.5,845.0 L385.1,843.1 L385.7,841.2 L386.3,839.3 L386.9,837.4 L387.5,835.5 L388.1,833.6 L388.7,831.6 L389.3,829.7 L389.9,827.8 L390.5,825.9 L391.1,824.0 L391.7,822.1 L392.3,820.2 L393.0,818.3 L393.6,816.4 L394.2,814.5 L394.8,812.5 L395.4,810.6 L396.0,808.7 L396.7,806.8 L397.3,804.9 L397.9,803.0 L398.5,801.1 L399.1,799.2 L399.8,797.3 L400.4,795.4 L401.0,793.4 L401.6,791.5 L402.3,789.6 L402.9,787.7 L403.5,785.8 L404.2,783.9 L404.8,782.0 L405.5,780.1 L406.1,778.2 L406.7,776.3 L407.4,774.4 L408.0,772.5 L408.7,770.6 L409.3,768.7 L410.0,766.8 L410.6,764.9 L411.3,763.0 L411.9,761.1 L412.6,759.2 L413.2,757.3 L413.9,755.4 L414.6,753.5 L415.2,751.6 L415.9,749.7 L416.6,747.8 L417.2,745.9 L417.9,744.0 L418.6,742.1 L419.3,740.2 L420.0,738.3 L420.6,736.4 L421.3,734.6 L422.0,732.7 L422.7,730.8 L423.4,728.9 L424.1,727.0 L424.8,725.1 L425.5,723.3 L426.2,721.4 L426.9,719.5 L427.6,717.6 L428.3,715.7 L429.0,713.9 L429.8,712.0 L430.5,710.1 L431.2,708.3 L431.9,706.4 L432.7,704.5 L433.4,702.7 L434.1,700.8 L434.9,698.9 L435.6,697.1 L436.3,695.2 L437.1,693.4 L437.8,691.5 L438.6,689.6 L439.3,687.8 L440.1,685.9 L440.9,684.1 L441.6,682.2 L442.4,680.4 L443.2,678.6 L444.0,676.7 L444.7,674.9 L445.5,673.0 L446.3,671.2 L447.1,669.4 L447.9,667.5 L448.7,665.7 L449.5,663.9 L450.3,662.0 L451.1,660.2 L451.9,658.4 L452.7,656.6 L453.6,654.8 L454.4,652.9 L455.2,651.1 L456.0,649.3 L456.9,647.5 L457.7,645.7 L458.6,643.9 L459.4,642.1 L460.3,640.3 L461.1,638.5 L462.0,636.7 L462.8,634.9 L463.7,633.1 L464.6,631.3 L465.5,629.5 L466.3,627.8 L467.2,626.0 L468.1,624.2 L469.0,622.4 L469.9,620.7 L470.8,618.9 L471.7,617.1 L472.6,615.4 L473.6,613.6 L474.5,611.8 L475.4,610.1 L476.3,608.3 L477.3,606.6 L478.2,604.8 L479.2,603.1 L480.1,601.3 L481.1,599.6 L482.0,597.9 L483.0,596.1 L484.0,594.4 L484.9,592.7 L485.9,590.9 L486.9,589.2 L487.9,587.5 L488.9,585.8 L489.9,584.1 L490.9,582.4 L491.9,580.7 L492.9,579.0 L493.9,577.3 L495.0,575.6 L496.0,573.9 L497.0,572.2 L498.1,570.5 L499.1,568.8 L500.2,567.1 L501.2,565.4 L502.3,563.8 L503.4,562.1 L504.4,560.4 L505.5,558.8 L506.6,557.1 L507.7,555.5 L508.8,553.8 L509.9,552.2 L511.0,550.5 L512.1,548.9 L513.3,547.2 L514.4,545.6 L515.5,544.0 L516.7,542.3 L517.8,540.7 L518.9,539.1 L520.1,537.5 L521.3,535.9 L522.4,534.3 L523.6,532.7 L524.8,531.1 L526.0,529.5 L527.1,527.9 L528.3,526.3 L529.5,524.7 L530.7,523.1 L532.0,521.6 L533.2,520.0 L534.4,518.4 L535.6,516.9 L536.8,515.3 L538.1,513.8 L539.3,512.2 L540.6,510.7 L541.8,509.1 L543.1,507.6 L544.4,506.0 L545.6,504.5 L546.9,503.0 L548.2,501.5 L549.5,500.0 L550.8,498.5 L552.1,496.9 L553.4,495.4 L554.7,493.9 L556.0,492.5 L557.3,491.0 L558.6,489.5 L560.0,488.0 L561.3,486.5 L562.7,485.1 L564.0,483.6 L565.4,482.1 L566.7,480.7 L568.1,479.2 L569.5,477.8 L570.8,476.4 L572.2,474.9 L573.6,473.5 L575.0,472.1 L576.4,470.7 L577.8,469.2 L579.2,467.8 L580.6,466.4 L582.0,465.0 L583.5,463.6 L584.9,462.3 L586.3,460.9 L587.8,459.5 L589.2,458.1 L590.7,456.8 L592.1,455.4 L593.6,454.0 L595.1,452.7 L596.6,451.3 L598.0,450.0 L599.5,448.7 L601.0,447.3 L602.5,446.0 L604.0,444.7 L605.5,443.4 L607.0,442.1 L608.6,440.8 L610.1,439.5 L611.6,438.2 L613.1,436.9 L614.7,435.6 L616.2,434.4 L617.8,433.1 L619.3,431.8 L620.9,430.6 L622.5,429.3 L624.1,428.1 L625.6,426.8 L627.2,425.6 L628.8,424.4 L630.4,423.2 L632.0,421.9 L633.6,420.7 L635.2,419.5 L636.8,418.3 L638.5,417.2 L640.1,416.0 L641.7,414.8 L643.4,413.6 L645.0,412.5 L646.7,411.3 L648.3,410.1 L650.0,409.0 L651.7,407.9 L653.3,406.7 L655.0,405.6 L656.4,407.1 L657.8,408.5 L659.2,410.0 L660.6,411.5 L662.1,412.9 L663.5,414.4 L664.9,415.8 L666.3,417.2 L667.8,418.7 L669.2,420.1 L670.7,421.5 L672.1,422.9 L673.5,424.4 L675.0,425.8 L676.4,427.2 L677.9,428.6 L679.4,430.0 L680.8,431.4 L682.3,432.8 L683.7,434.1 L685.2,435.5 L686.7,436.9 L688.2,438.3 L689.6,439.6 L691.1,441.0 L692.6,442.3 L694.1,443.7 L695.6,445.0 L697.1,446.4 L698.6,447.7 L700.1,449.1 L701.6,450.4 L703.1,451.7 L704.6,453.0 L706.1,454.3 L707.6,455.7 L709.2,457.0 L710.7,458.3 L712.2,459.6 L713.7,460.9 L715.3,462.1 L716.8,463.4 L718.3,464.7 L719.9,466.0 L721.4,467.3 L722.9,468.5 L724.5,469.8 L726.0,471.0 L727.6,472.3 L729.1,473.5 L730.7,474.8 L732.3,476.0 L733.8,477.3 L735.4,478.5 L737.0,479.7 L738.5,481.0 L740.1,482.2 L741.7,483.4 L743.3,484.6 L744.8,485.8 L746.4,487.0 L748.0,488.2 L749.6,489.4 L751.2,490.6 L752.8,491.8 L754.4,493.0 L756.0,494.1 L757.6,495.3 L759.2,496.5 L760.8,497.6 L762.4,498.8 L764.0,500.0 L765.7,501.1 L767.3,502.3 L768.9,503.4 L770.5,504.5 L772.2,505.7 L773.8,506.8 L775.4,507.9 L777.0,509.1 L778.7,510.2 L780.3,511.3 L782.0,512.4 L783.6,513.5 L785.3,514.6 L786.9,515.7 L788.6,516.8 L790.2,517.9 L791.9,519.0 L793.5,520.1 L795.2,521.2 L796.9,522.2 L798.5,523.3 L800.2,524.4 L801.9,525.4 L803.5,526.5 L805.2,527.6 L806.9,528.6 L808.6,529.7 L810.3,530.7 L811.9,531.7 L813.6,532.8 L815.3,533.8 L817.0,534.8 L818.7,535.9 L820.4,536.9 L822.1,537.9 L823.8,538.9 L825.5,539.9 L827.2,540.9 L828.9,541.9 L830.6,542.9 L832.3,543.9 L834.0,544.9 L835.8,545.9 L837.5,546.9 L839.2,547.9 L840.9,548.8 L842.7,549.8 L844.4,550.8 L846.1,551.7 L847.8,552.7 L849.6,553.7 L851.3,554.6 L853.0,555.6 L854.8,556.5 L856.5,557.5 L858.3,558.4 L860.0,559.3 L861.8,560.3 L863.5,561.2 L865.3,562.1 L867.0,563.0 L868.8,564.0 L870.5,564.9 L872.3,565.8 L874.1,566.7 L875.8,567.6 L877.6,568.5 L879.4,569.4 L881.1,570.3 L882.9,571.2 L884.7,572.1 L886.5,572.9 L888.2,573.8 L890.0,574.7 L891.8,575.6 L893.6,576.4 L895.4,577.3 L897.2,578.2 L898.9,579.0 L900.7,579.9 L902.5,580.7 L904.3,581.6 L906.1,582.4 L907.9,583.2 L909.7,584.1 L911.5,584.9 L913.3,585.8 L915.1,586.6 L916.9,587.4 L918.7,588.2 L920.6,589.0 L922.4,589.9 L924.2,590.7 L926.0,591.5 L927.8,592.3 L929.6,593.1 L931.5,593.9 L933.3,594.7 L935.1,595.5 L936.9,596.2 L938.8,597.0 L940.6,597.8 L942.4,598.6 L944.2,599.4 L946.1,600.1 L947.9,600.9 L949.8,601.7 L951.6,602.4 L953.4,603.2 L955.3,603.9 L957.1,604.7 L959.0,605.4 L960.8,606.2 L962.7,606.9 L964.5,607.7 L966.4,608.4 L968.2,609.1 L970.1,609.9 L971.9,610.6 L973.8,611.3 L975.6,612.0 L977.5,612.8 L979.4,613.5 L981.2,614.2 L983.1,614.9 L984.9,615.6 L986.8,616.3 L988.7,617.0 L990.6,617.7 L992.4,618.4 L994.3,619.1 L996.2,619.8 L998.0,620.5 L999.9,621.1 L1001.8,621.8 L1003.7,622.5 L1005.6,623.2 L1007.4,623.8 L1009.3,624.5 L1011.2,625.2 L1013.1,625.8 L1015.0,626.5 L1016.9,627.1 L1018.8,627.8 L1020.7,628.4 L1022.5,629.1 L1024.4,629.7 L1026.3,630.4 L1028.2,631.0 L1030.1,631.6 L1032.0,632.3 L1033.9,632.9 L1035.8,633.5 L1037.7,634.2 L1039.6,634.8 L1041.5,635.4 L1043.4,636.0 L1045.3,636.6 L1047.3,637.2 L1049.2,637.9 L1051.1,638.5 L1053.0,639.1 L1054.9,639.7 L1056.8,640.3 L1058.7,640.8 L1060.6,641.4 L1062.6,642.0 L1064.5,642.6 L1066.4,643.2 L1068.3,643.8 L1070.2,644.4 L1072.1,644.9 L1074.1,645.5 L1076.0,646.1 L1077.9,646.6 L1079.8,647.2 L1081.8,647.8 L1083.7,648.3 L1085.6,648.9 L1087.6,649.4 L1089.5,650.0 L1091.4,650.5 L1093.3,651.1 L1095.3,651.6 L1097.2,652.2 L1099.1,652.7 L1101.1,653.3 L1103.0,653.8 L1104.9,654.3 L1106.9,654.9 L1108.8,655.4 L1110.8,655.9 L1112.7,656.4 L1114.6,657.0 L1116.6,657.5 L1118.5,658.0 L1120.5,658.5 L1122.4,659.0 L1124.4,659.5 L1126.3,660.0 L1128.2,660.5 L1130.2,661.0 L1132.1,661.5 L1134.1,662.0 L1136.0,662.5 L1138.0,663.0 L1139.9,663.5 L1141.9,664.0 L1143.8,664.5 L1145.8,664.9 L1147.7,665.4 L1149.7,665.9 L1151.6,666.4 L1153.6,666.9 L1155.6,667.3 L1157.5,667.8 L1159.5,668.3 L1161.4,668.7 L1163.4,669.2 L1165.3,669.6 L1167.3,670.1 L1169.3,670.6 L1171.2,671.0 L1173.2,671.5 L1175.1,671.9 L1177.1,672.4 L1179.1,672.8 L1181.0,673.2 L1183.0,673.7 L1184.9,674.1 L1186.9,674.6 L1188.9,675.0 L1190.8,675.4 L1192.8,675.8 L1194.8,676.3 L1196.7,676.7 L1198.7,677.1 L1200.7,677.5 L1202.6,678.0 L1204.6,678.4 L1206.6,678.8 L1208.5,679.2 L1210.5,679.6 L1212.5,680.0 L1214.4,680.4 L1216.4,680.8 L1218.4,681.2 L1220.3,681.6 L1222.3,682.0 L1224.3,682.4 L1226.2,682.8 L1228.2,683.2 L1230.2,683.6 L1232.2,684.0 L1234.1,684.4 L1236.1,684.8 L1238.1,685.2 L1240.0,685.6 L1242.0,685.9 L1244.0,686.3 L1246.0,686.7 L1247.9,687.1 L1249.9,687.4 L1251.9,687.8 L1253.8,688.2 L1255.8,688.5 L1257.8,688.9 L1259.8,689.3 L1261.7,689.6 L1263.7,690.0 L1265.7,690.4 L1267.7,690.7 L1269.6,691.1 L1271.6,691.4 L1273.6,691.8 L1275.5,692.1 L1277.5,692.5 L1279.5,692.8 L1281.5,693.2 L1283.4,693.5 L1285.4,693.8 L1287.4,694.2 L1289.4,694.5 L1291.3,694.9 L1293.3,695.2 L1295.3,695.5 L1297.3,695.9 L1299.2,696.2 L1301.2,696.5 L1303.2,696.8 L1305.1,697.2 L1307.1,697.5 L1309.1,697.8 L1311.1,698.1 L1313.0,698.4 L1315.0,698.8 L1317.0,699.1 L1318.9,699.4 L1320.9,699.7 L1322.9,700.0 L1324.9,700.3 L1326.8,700.6 L1328.8,700.9 L1330.8,701.2 L1332.7,701.5 L1334.7,701.9 L1336.7,702.2 L1338.6,702.5 L1340.6,702.7 L1342.6,703.0 L1344.6,703.3 L1346.5,703.6 L1348.5,703.9 L1350.5,704.2 L1352.4,704.5 L1354.4,704.8 L1356.4,705.1 L1358.3,705.4 L1360.3,705.6 L1362.3,705.9 L1364.2,706.2 L1366.2,706.5 L1368.1,706.8 L1370.1,707.0 L1372.1,707.3 L1374.0,707.6 L1376.0,707.9 L1378.0,708.1 L1379.9,708.4 L1381.9,708.7 L1383.8,709.0 L1385.8,709.2 L1387.8,709.5 L1389.7,709.8 L1391.7,710.0 L1393.6,710.3 L1395.6,710.5 L1397.6,710.8 L1399.5,711.1 L1401.5,711.3 L1403.4,711.6 L1405.4,711.8 L1407.3,712.1 L1409.3,712.3 L1411.2,712.6 L1413.2,712.8 L1415.1,713.1 L1417.1,713.3 L1419.0,713.6 L1421.0,713.8 L1422.9,714.1 L1424.9,714.3 L1426.8,714.6 L1428.8,714.8 L1430.7,715.0 L1432.7,715.3 L1434.6,715.5 L1436.6,715.8 L1438.5,716.0" fill="none" stroke="#3A62B0" stroke-width="11" stroke-linejoin="round" stroke-linecap="butt"/>
<path d="M201.5,958.7 L201.6,960.7 L201.7,962.6 L201.8,964.6 L201.9,966.6 L202.0,968.5 L202.1,970.5 L202.2,972.5 L202.3,974.5 L202.4,976.4 L202.4,978.4 L202.5,980.4 L202.6,982.4 L202.7,984.3 L202.8,986.3 L202.8,988.3 L202.9,990.3 L203.0,992.3 L203.0,994.2 L203.1,996.2 L203.2,998.2 L203.2,1000.2 L203.3,1002.2 L203.3,1004.2 L203.4,1006.1 L203.4,1008.1 L203.5,1010.1 L203.6,1012.1 L203.6,1014.1 L203.6,1016.1 L203.7,1018.1 L203.7,1020.1 L203.8,1022.1 L203.8,1024.0 L203.9,1026.0 L203.9,1028.0 L203.9,1030.0 L204.0,1032.0 L204.0,1034.0 L204.1,1036.0 L204.1,1038.0 L204.1,1040.0 L204.2,1042.0 L204.2,1044.0 L204.2,1046.0 L204.3,1048.0 L204.3,1050.0 L204.3,1052.0 L204.3,1053.9 L204.4,1055.9 L204.4,1057.9 L204.4,1059.9 L204.5,1061.9 L204.5,1063.9 L204.5,1065.9 L204.6,1067.9 L204.6,1069.9 L204.6,1071.9 L204.6,1073.9 L204.7,1075.9 L204.7,1077.9 L204.7,1079.9 L204.8,1081.9 L204.8,1083.9 L204.8,1085.9 L204.8,1087.9 L204.9,1089.9 L204.9,1091.9 L204.9,1093.9 L205.0,1095.9 L205.0,1097.9 L205.0,1099.9 L205.1,1101.9 L205.1,1103.9 L205.1,1105.9 L205.2,1107.9 L205.2,1109.9 L205.3,1111.9 L205.3,1113.9 L205.3,1115.9 L205.4,1117.9 L205.4,1119.9 L205.5,1121.9 L205.5,1123.9 L205.6,1125.9 L205.6,1127.9 L205.7,1129.9 L205.7,1131.9 L205.8,1133.9 L205.8,1135.9 L205.9,1137.9 L206.0,1139.9 L206.0,1141.9 L206.1,1143.9 L206.1,1145.9 L206.2,1147.9 L206.3,1149.9 L206.3,1151.9 L206.4,1153.9 L206.5,1155.9 L206.6,1157.9 L206.7,1159.9 L206.7,1161.9 L206.8,1163.9 L206.9,1165.9 L207.0,1167.9 L207.1,1169.9 L207.2,1171.9 L207.3,1173.9 L207.4,1175.9 L207.5,1177.9 L207.6,1179.9 L207.7,1181.9 L207.8,1183.9 L207.9,1185.8 L208.0,1187.8 L208.2,1189.8 L208.3,1191.8 L208.4,1193.8 L208.5,1195.8 L208.7,1197.8 L208.8,1199.8 L209.0,1201.8 L209.1,1203.7 L209.2,1205.7 L209.4,1207.7 L209.5,1209.7 L209.7,1211.7 L209.9,1213.7 L210.0,1215.7 L210.2,1217.6 L210.4,1219.6 L210.5,1221.6 L210.7,1223.6 L210.9,1225.6 L211.1,1227.5 L211.3,1229.5 L211.5,1231.5 L211.7,1233.5 L211.9,1235.4 L212.1,1237.4 L212.3,1239.4 L212.5,1241.4 L212.8,1243.3 L213.0,1245.3 L213.2,1247.3 L213.4,1249.3 L213.7,1251.2 L213.9,1253.2 L214.2,1255.2 L214.4,1257.1 L214.7,1259.1 L215.0,1261.1 L215.2,1263.0 L215.5,1265.0 L215.8,1266.9 L216.1,1268.9 L216.4,1270.9 L216.7,1272.8 L217.0,1274.8 L217.3,1276.7 L217.6,1278.7 L217.9,1280.6 L218.2,1282.6 L218.5,1284.6 L218.9,1286.5 L219.2,1288.5 L219.6,1290.4 L219.9,1292.4 L220.3,1294.3 L220.6,1296.2 L221.0,1298.2 L221.4,1300.1 L221.8,1302.1 L222.1,1304.0 L222.5,1306.0 L222.9,1307.9 L223.3,1309.8 L223.7,1311.8 L224.2,1313.7 L224.6,1315.6 L225.0,1317.6 L225.4,1319.5 L225.9,1321.4 L226.3,1323.4 L226.8,1325.3 L227.3,1327.2 L227.7,1329.1 L228.2,1331.1 L228.7,1333.0 L229.2,1334.9 L229.7,1336.8 L230.2,1338.7 L230.7,1340.7 L231.2,1342.6 L231.7,1344.5 L232.3,1346.4 L232.8,1348.3 L233.3,1350.2 L233.9,1352.1 L234.5,1354.0 L235.0,1355.9 L235.6,1357.8 L236.2,1359.7 L236.8,1361.6 L237.4,1363.5 L238.0,1365.4 L238.6,1367.3 L239.2,1369.2 L239.9,1371.1 L240.5,1373.0 L241.7,1371.5 L242.9,1369.9 L244.1,1368.3 L245.2,1366.7 L246.3,1365.1 L247.4,1363.5 L248.5,1361.9 L249.6,1360.3 L250.7,1358.6 L251.7,1357.0 L252.7,1355.3 L253.7,1353.6 L254.7,1352.0 L255.7,1350.3 L256.7,1348.6 L257.6,1346.9 L258.6,1345.2 L259.5,1343.4 L260.4,1341.7 L261.3,1340.0 L262.2,1338.2 L263.0,1336.5 L263.9,1334.7 L264.7,1332.9 L265.6,1331.2 L266.4,1329.4 L267.2,1327.6 L268.0,1325.8 L268.8,1324.0 L269.6,1322.2 L270.4,1320.4 L271.1,1318.5 L271.9,1316.7 L272.6,1314.9 L273.4,1313.1 L274.1,1311.2 L274.8,1309.4 L275.5,1307.5 L276.2,1305.7 L276.9,1303.8 L277.6,1302.0 L278.3,1300.1 L279.0,1298.2 L279.7,1296.4 L280.4,1294.5 L281.0,1292.6 L281.7,1290.7 L282.3,1288.8 L283.0,1287.0 L283.7,1285.1 L284.3,1283.2 L285.0,1281.3 L285.6,1279.4 L286.2,1277.5 L286.9,1275.6 L287.5,1273.7 L288.1,1271.8 L288.8,1269.9 L289.4,1268.0 L290.0,1266.1 L290.6,1264.2 L291.2,1262.3 L291.9,1260.4 L292.5,1258.5 L293.1,1256.6 L293.7,1254.7 L294.3,1252.8 L294.9,1250.9 L295.5,1249.0 L296.1,1247.1 L296.7,1245.1 L297.3,1243.2 L297.9,1241.3 L298.5,1239.4 L299.1,1237.5 L299.7,1235.6 L300.3,1233.6 L300.8,1231.7 L301.4,1229.8 L302.0,1227.9 L302.6,1226.0 L303.2,1224.0 L303.8,1222.1 L304.4,1220.2 L304.9,1218.3 L305.5,1216.3 L306.1,1214.4 L306.7,1212.5 L307.2,1210.6 L307.8,1208.6 L308.4,1206.7 L309.0,1204.8 L309.6,1202.9 L310.1,1200.9 L310.7,1199.0 L311.3,1197.1 L311.9,1195.2 L312.4,1193.2 L313.0,1191.3 L313.6,1189.4 L314.2,1187.4 L314.7,1185.5 L315.3,1183.6 L315.9,1181.7 L316.5,1179.7 L317.1,1177.8 L317.6,1175.9 L318.2,1174.0 L318.8,1172.0 L319.4,1170.1 L320.0,1168.2 L320.6,1166.3 L321.2,1164.4 L321.7,1162.4 L322.3,1160.5 L322.9,1158.6 L323.5,1156.7 L324.1,1154.8 L324.7,1152.8 L325.3,1150.9 L325.9,1149.0 L326.5,1147.1 L327.1,1145.2 L327.7,1143.3 L328.3,1141.4 L328.9,1139.4 L329.5,1137.5 L330.1,1135.6 L330.8,1133.7 L331.4,1131.8 L332.0,1129.9 L332.6,1128.0 L333.2,1126.1 L333.9,1124.2 L334.5,1122.3 L335.1,1120.4 L335.7,1118.5 L336.4,1116.6 L337.0,1114.7 L337.6,1112.8 L338.3,1110.9 L338.9,1109.0 L339.6,1107.1 L340.2,1105.2 L340.8,1103.3 L341.5,1101.4 L342.1,1099.6 L342.8,1097.7 L343.5,1095.8 L344.1,1093.9 L344.8,1092.0 L345.4,1090.1 L346.1,1088.2 L346.8,1086.4 L347.4,1084.5 L348.1,1082.6 L348.8,1080.7 L349.5,1078.9 L350.1,1077.0 L350.8,1075.1 L351.5,1073.2 L352.2,1071.4 L352.9,1069.5 L353.6,1067.6 L354.3,1065.7 L354.9,1063.9 L355.6,1062.0 L356.3,1060.1 L357.0,1058.3 L357.8,1056.4 L358.5,1054.6 L359.2,1052.7 L359.9,1050.8 L360.6,1049.0 L361.3,1047.1 L362.0,1045.3 L362.8,1043.4 L363.5,1041.6 L364.2,1039.7 L364.9,1037.8 L365.7,1036.0 L366.4,1034.1 L367.2,1032.3 L367.9,1030.5 L368.6,1028.6 L369.4,1026.8 L370.1,1024.9 L370.9,1023.1 L371.6,1021.2 L372.4,1019.4 L373.2,1017.6 L373.9,1015.7 L374.7,1013.9 L375.5,1012.1 L376.2,1010.2 L377.0,1008.4 L377.8,1006.6 L378.6,1004.7 L379.4,1002.9 L380.1,1001.1 L380.9,999.3 L381.7,997.4 L382.5,995.6 L383.3,993.8 L384.1,992.0 L384.9,990.1 L385.7,988.3 L386.6,986.5 L387.4,984.7 L388.2,982.9 L389.0,981.1 L389.8,979.3 L390.7,977.5 L391.5,975.6 L392.3,973.8 L393.2,972.0 L394.0,970.2 L394.8,968.4 L395.7,966.6 L396.5,964.8 L397.4,963.0 L398.3,961.2 L399.1,959.4 L400.0,957.6 L400.8,955.8 L401.7,954.1 L402.6,952.3 L403.5,950.5 L404.3,948.7 L405.2,946.9 L406.1,945.1 L407.0,943.3 L407.9,941.6 L408.8,939.8 L409.7,938.0 L410.6,936.2 L411.5,934.4 L412.4,932.7 L413.3,930.9 L414.2,929.1 L415.2,927.4 L416.1,925.6 L417.0,923.8 L418.0,922.1 L418.9,920.3 L419.8,918.5 L420.8,916.8 L421.7,915.0 L422.7,913.2 L423.6,911.5 L424.6,909.7 L425.5,908.0 L426.5,906.2 L427.5,904.5 L428.5,902.7 L429.4,901.0 L430.4,899.2 L431.4,897.5 L432.4,895.8 L433.4,894.0 L434.4,892.3 L435.4,890.5 L436.4,888.8 L437.4,887.1 L438.4,885.3 L439.4,883.6 L440.4,881.9 L441.5,880.2 L442.5,878.4 L443.5,876.7 L444.5,875.0 L445.6,873.3 L446.6,871.6 L447.7,869.8 L448.7,868.1 L449.8,866.4 L450.8,864.7 L451.9,863.0 L453.0,861.3 L454.0,859.6 L455.1,857.9 L456.2,856.2 L457.3,854.5 L458.4,852.9 L459.5,851.2 L460.5,849.5 L461.6,847.8 L462.7,846.1 L463.9,844.4 L465.0,842.8 L466.1,841.1 L467.2,839.4 L468.3,837.8 L469.4,836.1 L470.6,834.5 L471.7,832.8 L472.9,831.1 L474.0,829.5 L475.1,827.9 L476.3,826.2 L477.5,824.6 L478.6,822.9 L479.8,821.3 L481.0,819.7 L482.1,818.0 L483.3,816.4 L484.5,814.8 L485.7,813.2 L486.9,811.6 L488.1,810.0 L489.3,808.4 L490.5,806.7 L491.7,805.1 L492.9,803.6 L494.1,802.0 L495.3,800.4 L496.5,798.8 L497.8,797.2 L499.0,795.6 L500.2,794.1 L501.5,792.5 L502.7,790.9 L504.0,789.4 L505.2,787.8 L506.5,786.2 L507.7,784.7 L509.0,783.1 L510.3,781.6 L511.6,780.1 L512.8,778.5 L514.1,777.0 L515.4,775.5 L516.7,774.0 L518.0,772.4 L519.3,770.9 L520.6,769.4 L521.9,767.9 L523.3,766.4 L524.6,764.9 L525.9,763.4 L527.2,761.9 L528.6,760.5 L529.9,759.0 L531.3,757.5 L532.6,756.0 L534.0,754.6 L535.3,753.1 L536.7,751.7 L538.0,750.2 L539.4,748.8 L540.8,747.3 L542.2,745.9 L543.6,744.5 L545.0,743.0 L546.3,741.6 L547.7,740.2 L549.1,738.8 L550.6,737.4 L552.0,736.0 L553.4,734.6 L554.8,733.2 L556.2,731.8 L557.7,730.4 L559.1,729.1 L560.6,727.7 L562.0,726.3 L563.5,725.0 L564.9,723.6 L566.4,722.3 L567.8,720.9 L569.3,719.6 L570.8,718.3 L572.3,716.9 L573.7,715.6 L575.2,714.3 L576.7,713.0 L578.2,711.7 L579.7,710.4 L581.2,709.1 L582.8,707.8 L584.3,706.6 L585.8,705.3 L587.3,704.0 L588.9,702.8 L590.4,701.5 L591.9,700.3 L593.5,699.0 L595.1,697.8 L596.6,696.5 L598.2,695.3 L599.7,694.1 L601.3,692.9 L602.9,691.7 L604.5,690.5 L606.1,689.3 L607.7,688.1 L609.3,686.9 L610.9,685.8 L612.5,684.6 L614.1,683.4 L615.7,682.3 L617.3,681.1 L619.0,680.0 L620.6,678.9 L622.2,677.7 L623.9,676.6 L625.5,675.5 L627.2,674.4 L628.8,673.3 L630.5,672.2 L632.1,671.1 L633.8,670.0 L635.5,668.9 L637.2,667.8 L638.8,666.8 L640.5,665.7 L642.2,664.7 L643.9,663.6 L645.6,662.6 L647.3,661.5 L649.0,660.5 L650.7,659.5 L652.4,658.5 L654.2,657.4 L655.9,656.4 L657.6,655.4 L659.3,654.4 L661.1,653.5 L662.8,652.5 L664.6,651.5 L666.3,650.5 L668.0,649.6 L669.8,648.6 L671.6,647.6 L673.3,646.7 L675.1,645.8 L676.9,644.8 L678.6,643.9 L680.4,643.0 L682.2,642.1 L684.0,641.1 L685.7,640.2 L687.5,639.3 L689.3,638.4 L691.1,637.6 L692.9,636.7 L694.7,635.8 L696.5,634.9 L698.3,634.1 L700.1,633.2 L701.9,632.3 L703.8,631.5 L705.6,630.7 L707.4,629.8 L709.2,629.0 L711.0,628.2 L712.9,627.3 L714.7,626.5 L716.5,625.7 L718.4,624.9 L720.2,624.1 L722.1,623.3 L723.9,622.5 L725.8,621.8 L727.6,621.0 L729.5,620.2 L731.3,619.4 L733.2,618.7 L735.0,617.9 L736.9,617.2 L738.8,616.4 L740.6,615.7 L742.5,615.0 L744.4,614.3 L746.2,613.5 L748.1,612.8 L750.0,612.1 L751.9,611.4 L753.8,610.7 L755.6,610.0 L757.5,609.3 L759.4,608.6 L761.3,608.0 L763.2,607.3 L765.1,606.6 L767.0,606.0 L768.9,605.3 L770.8,604.7 L772.7,604.0 L774.6,603.4 L776.5,602.7 L778.4,602.1 L780.3,601.5 L782.2,600.9 L784.1,600.3 L786.0,599.6 L787.9,599.0 L789.8,598.4 L791.7,597.8 L793.7,597.3 L795.6,596.7 L797.5,596.1 L799.4,595.5 L801.3,595.0 L803.2,594.4 L805.2,593.8 L807.1,593.3 L809.0,592.7 L810.9,592.2 L812.9,591.7 L814.8,591.1 L816.7,590.6 L818.6,590.1 L820.6,589.6 L822.5,589.0 L824.4,588.5 L826.3,588.0 L828.3,587.5 L830.2,587.0 L832.1,586.6 L834.1,586.1 L836.0,585.6 L837.9,585.1 L839.9,584.7 L841.8,584.2 L843.7,583.7 L845.7,583.3 L847.6,582.8 L849.5,582.4 L851.5,581.9 L853.4,581.5 L855.3,581.1 L857.3,580.7 L859.2,580.2 L861.1,579.8 L863.1,579.4 L865.0,579.0 L866.8,579.7 L868.7,580.5 L870.5,581.2 L872.4,582.0 L874.2,582.7 L876.1,583.5 L877.9,584.2 L879.8,585.0 L881.7,585.7 L883.5,586.4 L885.4,587.2 L887.2,587.9 L889.1,588.6 L890.9,589.4 L892.8,590.1 L894.7,590.8 L896.5,591.5 L898.4,592.2 L900.2,593.0 L902.1,593.7 L904.0,594.4 L905.8,595.1 L907.7,595.8 L909.5,596.5 L911.4,597.2 L913.3,597.9 L915.1,598.6 L917.0,599.3 L918.9,600.0 L920.8,600.7 L922.6,601.4 L924.5,602.1 L926.4,602.8 L928.2,603.5 L930.1,604.1 L932.0,604.8 L933.9,605.5 L935.7,606.2 L937.6,606.9 L939.5,607.5 L941.4,608.2 L943.2,608.9 L945.1,609.5 L947.0,610.2 L948.9,610.9 L950.8,611.5 L952.6,612.2 L954.5,612.8 L956.4,613.5 L958.3,614.2 L960.2,614.8 L962.1,615.5 L963.9,616.1 L965.8,616.8 L967.7,617.4 L969.6,618.0 L971.5,618.7 L973.4,619.3 L975.3,620.0 L977.2,620.6 L979.1,621.2 L980.9,621.9 L982.8,622.5 L984.7,623.1 L986.6,623.7 L988.5,624.4 L990.4,625.0 L992.3,625.6 L994.2,626.2 L996.1,626.8 L998.0,627.5 L999.9,628.1 L1001.8,628.7 L1003.7,629.3 L1005.6,629.9 L1007.5,630.5 L1009.4,631.1 L1011.3,631.7 L1013.2,632.3 L1015.1,632.9 L1017.0,633.5 L1018.9,634.1 L1020.8,634.7 L1022.7,635.3 L1024.6,635.8 L1026.5,636.4 L1028.4,637.0 L1030.4,637.6 L1032.3,638.2 L1034.2,638.8 L1036.1,639.3 L1038.0,639.9 L1039.9,640.5 L1041.8,641.0 L1043.7,641.6 L1045.6,642.2 L1047.5,642.7 L1049.5,643.3 L1051.4,643.9 L1053.3,644.4 L1055.2,645.0 L1057.1,645.5 L1059.0,646.1 L1061.0,646.7 L1062.9,647.2 L1064.8,647.7 L1066.7,648.3 L1068.6,648.8 L1070.5,649.4 L1072.5,649.9 L1074.4,650.5 L1076.3,651.0 L1078.2,651.5 L1080.2,652.1 L1082.1,652.6 L1084.0,653.1 L1085.9,653.7 L1087.9,654.2 L1089.8,654.7 L1091.7,655.2 L1093.6,655.8 L1095.6,656.3 L1097.5,656.8 L1099.4,657.3 L1101.3,657.8 L1103.3,658.3 L1105.2,658.8 L1107.1,659.4 L1109.1,659.9 L1111.0,660.4 L1112.9,660.9 L1114.8,661.4 L1116.8,661.9 L1118.7,662.4 L1120.6,662.9 L1122.6,663.4 L1124.5,663.9 L1126.4,664.3 L1128.4,664.8 L1130.3,665.3 L1132.3,665.8 L1134.2,666.3 L1136.1,666.8 L1138.1,667.3 L1140.0,667.7 L1141.9,668.2 L1143.9,668.7 L1145.8,669.2 L1147.8,669.6 L1149.7,670.1 L1151.6,670.6 L1153.6,671.0 L1155.5,671.5 L1157.5,672.0 L1159.4,672.4 L1161.3,672.9 L1163.3,673.3 L1165.2,673.8 L1167.2,674.3 L1169.1,674.7 L1171.1,675.2 L1173.0,675.6 L1175.0,676.1 L1176.9,676.5 L1178.9,677.0 L1180.8,677.4 L1182.7,677.8 L1184.7,678.3 L1186.6,678.7 L1188.6,679.1 L1190.5,679.6 L1192.5,680.0 L1194.4,680.4 L1196.4,680.9 L1198.3,681.3 L1200.3,681.7 L1202.2,682.2 L1204.2,682.6 L1206.1,683.0 L1208.1,683.4 L1210.1,683.8 L1212.0,684.3 L1214.0,684.7 L1215.9,685.1 L1217.9,685.5 L1219.8,685.9 L1221.8,686.3 L1223.7,686.7 L1225.7,687.1 L1227.6,687.5 L1229.6,687.9 L1231.6,688.3 L1233.5,688.7 L1235.5,689.1 L1237.4,689.5 L1239.4,689.9 L1241.3,690.3 L1243.3,690.7 L1245.3,691.1 L1247.2,691.5 L1249.2,691.9 L1251.1,692.2 L1253.1,692.6 L1255.1,693.0 L1257.0,693.4 L1259.0,693.8 L1261.0,694.1 L1262.9,694.5 L1264.9,694.9 L1266.8,695.2 L1268.8,695.6 L1270.8,696.0 L1272.7,696.3 L1274.7,696.7 L1276.7,697.1 L1278.6,697.4 L1280.6,697.8 L1282.6,698.2 L1284.5,698.5 L1286.5,698.9 L1288.4,699.2 L1290.4,699.6 L1292.4,699.9 L1294.3,700.3 L1296.3,700.6 L1298.3,701.0 L1300.2,701.3 L1302.2,701.7 L1304.2,702.0 L1306.2,702.3 L1308.1,702.7 L1310.1,703.0 L1312.1,703.3 L1314.0,703.7 L1316.0,704.0 L1318.0,704.3 L1319.9,704.7 L1321.9,705.0 L1323.9,705.3 L1325.9,705.6 L1327.8,706.0 L1329.8,706.3 L1331.8,706.6 L1333.7,706.9 L1335.7,707.2 L1337.7,707.6 L1339.7,707.9 L1341.6,708.2 L1343.6,708.5 L1345.6,708.8 L1347.5,709.1 L1349.5,709.4 L1351.5,709.7 L1353.5,710.0 L1355.4,710.3 L1357.4,710.6 L1359.4,710.9 L1361.4,711.2 L1363.3,711.5 L1365.3,711.8 L1367.3,712.1 L1369.3,712.4 L1371.2,712.7 L1373.2,713.0 L1375.2,713.3 L1377.2,713.6 L1379.1,713.8 L1381.1,714.1 L1383.1,714.4 L1385.1,714.7 L1387.0,715.0 L1389.0,715.2 L1391.0,715.5 L1393.0,715.8 L1395.0,716.1 L1396.9,716.3 L1398.9,716.6 L1400.9,716.9 L1402.9,717.1 L1404.8,717.4 L1406.8,717.7 L1408.8,717.9 L1410.8,718.2 L1412.8,718.4 L1414.7,718.7 L1416.7,719.0 L1418.7,719.2 L1420.7,719.5 L1422.7,719.7 L1424.6,720.0 L1426.6,720.2 L1428.6,720.5 L1430.6,720.7 L1432.6,721.0 L1434.5,721.2 L1436.5,721.5 L1438.5,721.7" fill="none" stroke="#649B41" stroke-width="11" stroke-linejoin="round" stroke-linecap="butt"/>
<line x1="537" y1="367.4" x2="708.6" y2="191.9" stroke="#000" stroke-width="3"/>
<line x1="634.3" y1="362.3" x2="879.3" y2="302.4" stroke="#000" stroke-width="3"/>
<line x1="480" y1="595.7" x2="1012" y2="461.8" stroke="#000" stroke-width="3"/>
<line x1="543.2" y1="740.2" x2="1231" y2="587.7" stroke="#000" stroke-width="3"/>
<line x1="906.6" y1="803.8" x2="1035.2" y2="1088.9" stroke="#000" stroke-width="3"/>
<line x1="600.1" y1="1066.8" x2="679.3" y2="1214.2" stroke="#000" stroke-width="3"/>
<text x="142.5" y="282.1" font-family="Liberation Sans" font-size="55" text-anchor="end" fill="#111" stroke="#fff" stroke-width="0.6">0.15</text>
<text x="142.5" y="504.2" font-family="Liberation Sans" font-size="55" text-anchor="end" fill="#111" stroke="#fff" stroke-width="0.6">0.10</text>
<text x="142.5" y="725.9" font-family="Liberation Sans" font-size="55" text-anchor="end" fill="#111" stroke="#fff" stroke-width="0.6">0.05</text>
<text x="142.5" y="947.1" font-family="Liberation Sans" font-size="55" text-anchor="end" fill="#111" stroke="#fff" stroke-width="0.6">0.00</text>
<text x="142.5" y="1168.9" font-family="Liberation Sans" font-size="55" text-anchor="end" fill="#111" stroke="#fff" stroke-width="0.6">-0.05</text>
<text x="142.5" y="1391.3" font-family="Liberation Sans" font-size="55" text-anchor="end" fill="#111" stroke="#fff" stroke-width="0.6">-0.10</text>
<text x="200.0" y="1470" font-family="Liberation Sans" font-size="55" text-anchor="middle" fill="#111" stroke="#fff" stroke-width="0.6">0</text>
<text x="446.3" y="1470" font-family="Liberation Sans" font-size="55" text-anchor="middle" fill="#111" stroke="#fff" stroke-width="0.6">5</text>
<text x="692.8" y="1470" font-family="Liberation Sans" font-size="55" text-anchor="middle" fill="#111" stroke="#fff" stroke-width="0.6">10</text>
<text x="939.3" y="1470" font-family="Liberation Sans" font-size="55" text-anchor="middle" fill="#111" stroke="#fff" stroke-width="0.6">15</text>
<text x="1186.2" y="1470" font-family="Liberation Sans" font-size="55" text-anchor="middle" fill="#111" stroke="#fff" stroke-width="0.6">20</text>
<text x="68.5" y="78.5" font-family="Liberation Sans" font-size="71" textLength="47" lengthAdjust="spacingAndGlyphs" fill="#111" stroke="#fff" stroke-width="1.6">η</text>
<text x="1379" y="1471" font-family="Liberation Serif" font-style="italic" font-size="74" textLength="39" lengthAdjust="spacingAndGlyphs" fill="#111" stroke="#fff" stroke-width="0.8">V</text>
<text x="1417" y="1478.5" font-family="Liberation Serif" font-style="italic" font-size="50" fill="#111" stroke="#fff" stroke-width="0.8">k</text>
<text x="708" y="178" font-family="Liberation Serif" font-size="74" fill="#111" stroke="#fff" stroke-width="0.8">0.2</text>
<text x="910" y="325" font-family="Liberation Serif" font-size="74" fill="#111" stroke="#fff" stroke-width="0.8">0.3</text>
<text x="1039" y="456.5" font-family="Liberation Serif" font-size="74" fill="#111" stroke="#fff" stroke-width="0.8">0.4</text>
<text x="1252" y="605.5" font-family="Liberation Serif" font-size="74" fill="#111" stroke="#fff" stroke-width="0.8">0.5</text>
<text x="1011" y="1171" font-family="Liberation Serif" font-size="74" fill="#111" stroke="#fff" stroke-width="0.8">0.1</text>
<text x="559" y="1284.5" font-family="Liberation Serif" font-style="italic" font-size="76" fill="#111" stroke="#fff" stroke-width="0.8">H</text>
<text x="611" y="1291.5" font-family="Liberation Serif" font-style="italic" font-size="50" fill="#111" stroke="#fff" stroke-width="0.8">d</text>
<text x="636.4" y="1291" font-family="Liberation Serif" font-size="50" fill="#111" stroke="#fff" stroke-width="0.8">0</text>
<text x="676.6" y="1285.5" font-family="Liberation Serif" font-size="68" fill="#111" stroke="#fff" stroke-width="0.8">=</text>
<text x="732.3" y="1283" font-family="Liberation Serif" font-size="68" fill="#111" stroke="#fff" stroke-width="0.8">0</text>
</g>
</svg></body></html>
